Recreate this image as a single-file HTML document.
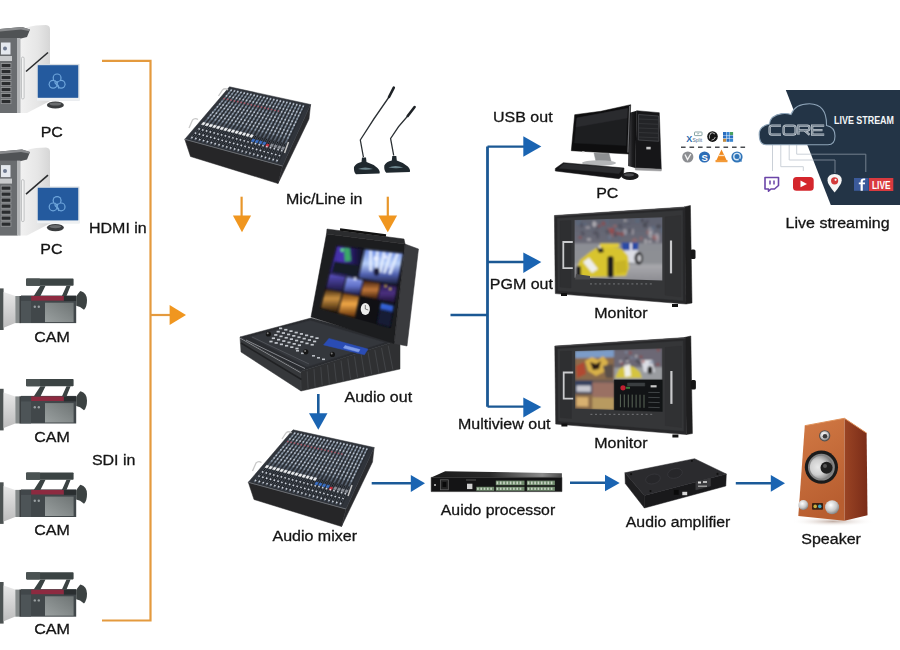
<!DOCTYPE html>
<html><head><meta charset="utf-8"><title>Diagram</title>
<style>
html,body{margin:0;padding:0;background:#fff;width:900px;height:650px;overflow:hidden}
svg{display:block}
text{font-family:"Liberation Sans",sans-serif;fill:#141414}
.t text{stroke:#141414;stroke-width:0.3px}
.t{font-size:15.5px}
</style></head><body>
<svg width="900" height="650" viewBox="0 0 900 650">
<rect width="900" height="650" fill="#ffffff"/>
<defs>
<linearGradient id="sidepanel" x1="0" y1="0" x2="1" y2="0">
 <stop offset="0" stop-color="#f2f2f2"/><stop offset="0.6" stop-color="#e6e6e6"/><stop offset="1" stop-color="#d6d6d6"/>
</linearGradient>
<linearGradient id="hood" x1="0" y1="0" x2="0" y2="1">
 <stop offset="0" stop-color="#e8e8e8"/><stop offset="1" stop-color="#bdbdbd"/>
</linearGradient>
<linearGradient id="lcd" x1="0" y1="1" x2="1" y2="0">
 <stop offset="0" stop-color="#9aa0a0"/><stop offset="1" stop-color="#6e7474"/>
</linearGradient>
<!-- left PC -->
<g id="lpc">
 <!-- side panel -->
 <path d="M19 38L26 28Q30 26 36 25.5L46 25Q50 25.5 50 29V101L27 113H19Z" fill="url(#sidepanel)"/>
 <!-- top cap -->
 <path d="M0 29L22 27L30 29.5L27 37L19 39H0Z" fill="#505355"/>
 <path d="M0 29L22 27L30 29.5L29 31L21 29.5L0 31.5Z" fill="#8a8c8e"/>
 <!-- front -->
 <rect x="0" y="38" width="17.5" height="75" fill="#6a6d70"/>
 <rect x="17" y="38" width="3.5" height="75" fill="#b4b6b8"/>
 <rect x="1" y="42.5" width="9.5" height="12" fill="#e4e8ee"/>
 <circle cx="5" cy="48.5" r="2" fill="#6f7a90"/>
 <rect x="0" y="56" width="12" height="5" fill="#c8cacc"/>
 <rect x="0.8" y="63" width="10.5" height="5" fill="#9a9c9e"/><rect x="1.6" y="63.9" width="8.9" height="3.3" fill="#2a2c2e"/>
 <rect x="0.8" y="69" width="10.5" height="5" fill="#9a9c9e"/><rect x="1.6" y="69.9" width="8.9" height="3.3" fill="#2a2c2e"/>
 <rect x="0.8" y="75" width="10.5" height="5" fill="#9a9c9e"/><rect x="1.6" y="75.9" width="8.9" height="3.3" fill="#2a2c2e"/>
 <rect x="0.8" y="81" width="10.5" height="5" fill="#9a9c9e"/><rect x="1.6" y="81.9" width="8.9" height="3.3" fill="#2a2c2e"/>
 <rect x="0.8" y="87" width="10.5" height="5" fill="#9a9c9e"/><rect x="1.6" y="87.9" width="8.9" height="3.3" fill="#2a2c2e"/>
 <rect x="0.8" y="93" width="10.5" height="5" fill="#9a9c9e"/><rect x="1.6" y="93.9" width="8.9" height="3.3" fill="#2a2c2e"/>
 <rect x="0.8" y="99" width="10.5" height="5" fill="#9a9c9e"/><rect x="1.6" y="99.9" width="8.9" height="3.3" fill="#2a2c2e"/>
 <rect x="21.5" y="57" width="2.6" height="42" rx="1.3" fill="#f4f4f4" stroke="#a0a2a4" stroke-width="0.6"/>
 <path d="M26 71.5L48 52.5" stroke="#2a2c2e" stroke-width="1.6"/>
 <!-- monitor -->
 <rect x="36.8" y="63.9" width="42.7" height="36.8" fill="#d8dde2"/>
 <rect x="36.8" y="97.5" width="42.7" height="3.2" fill="#eef0f2"/>
 <rect x="37.8" y="65.2" width="40.4" height="32.6" fill="#245a9e"/>
 <g fill="#6fa6dc">
  <circle cx="57.1" cy="77.9" r="4.5"/><circle cx="53.1" cy="84.3" r="4.5"/><circle cx="61.1" cy="84.3" r="4.5"/>
 </g>
 <g fill="#245a9e">
  <circle cx="57.1" cy="77.9" r="3.3"/><circle cx="53.1" cy="84.3" r="3.3"/><circle cx="61.1" cy="84.3" r="3.3"/>
 </g>
 <path d="M55.3 80.2Q54.2 83.5 56.8 84.6Q59.6 85.8 58.4 88.4" fill="none" stroke="#6fa6dc" stroke-width="1.2"/>
 <ellipse cx="55.4" cy="105" rx="8.5" ry="3.6" fill="#3a3c3e"/>
 <ellipse cx="55.4" cy="104" rx="6" ry="1.6" fill="#6a6c6e"/>
</g>
<!-- camera (CAM1 coords) -->
<g id="cam">
 <rect x="0" y="288.4" width="3.6" height="41.6" fill="#4c5252"/>
 <path d="M3.6 292L15.3 296V323L3.6 327.7Z" fill="url(#hood)"/>
 <rect x="15.3" y="296" width="5.7" height="27.1" fill="#858a8a"/>
 <rect x="19.5" y="296" width="1.5" height="27.1" fill="#3a3e40"/>
 <rect x="21" y="295.5" width="55.2" height="27.6" fill="#41474a"/>
 <rect x="21" y="301" width="10" height="22" fill="#4d5457"/>
 <rect x="31.2" y="296" width="32.7" height="4.6" fill="#8d2a40"/>
 <rect x="63.9" y="296" width="12.3" height="5" fill="#2a2e30"/>
 <rect x="45" y="302.7" width="28.6" height="19.4" fill="url(#lcd)"/>
 <circle cx="34.8" cy="306.8" r="1.2" fill="#9aa0a2"/><circle cx="38.8" cy="306.8" r="1.2" fill="#9aa0a2"/>
 <path d="M76.2 296.5Q79 292 80.5 290.9Q87 293 87 300Q87 307 84 309.8Q80 306 76.2 305.7Z" fill="#3c4242"/>
 <rect x="26.1" y="278.6" width="47.5" height="7.2" rx="0.8" fill="#3b4343"/>
 <rect x="26.1" y="278.6" width="14" height="7.2" rx="0.8" fill="#4a5252"/>
 <path d="M40.4 285.8H45.5L40.4 296H33.7Z M66.5 285.8H70.6L66.5 296H61.9Z" fill="#3b4343"/>
</g>

<g id="mixer"><path d="M184.8 139.3 L282.5 166 L278 183.5 L190.5 156.5Z" fill="#262628" stroke="#262628" stroke-width="0.5" stroke-linejoin="round"/><path d="M310.6 104.5 L309 119 L278 183.5 L282.5 166Z" fill="#2a2b2e" stroke="#2a2b2e" stroke-width="0.5" stroke-linejoin="round"/><path d="M229.5 86.8 L310.6 104.5 L282.5 166 L184.8 139.3Z" fill="#30343b" stroke="#30343b" stroke-width="0.5" stroke-linejoin="round"/><path d="M184.8 139.3L282.5 166" stroke="#6a6d72" stroke-width="1"/><path d="M232 89.2L207 119.4" stroke="#66727f" stroke-width="1.5"/><path d="M207 119.4L190.7 139" stroke="#5a6472" stroke-width="1.5"/><path d="M233.3 90.1L192.8 139.5" stroke="#25282d" stroke-width="0.8"/><circle cx="231.1" cy="90.3" r="0.85" fill="#bcc4d0"/><circle cx="228.8" cy="93" r="0.85" fill="#909cac"/><circle cx="226.5" cy="95.8" r="0.85" fill="#bcc4d0"/><circle cx="224.3" cy="98.5" r="0.85" fill="#b05868"/><circle cx="222" cy="101.3" r="0.85" fill="#909cac"/><circle cx="219.7" cy="104" r="0.85" fill="#bcc4d0"/><circle cx="217.4" cy="106.8" r="0.85" fill="#bcc4d0"/><circle cx="215.1" cy="109.5" r="0.85" fill="#909cac"/><circle cx="212.8" cy="112.3" r="0.85" fill="#bcc4d0"/><circle cx="210.6" cy="115" r="0.85" fill="#bcc4d0"/><circle cx="208.3" cy="117.8" r="0.85" fill="#909cac"/><path d="M204.3 122.6L191.6 137.9" stroke="#15171a" stroke-width="1"/><path d="M203.2 122.3 L205.4 122.8 L203.7 125 L201.5 124.4Z" fill="#eef0f2" stroke="#eef0f2" stroke-width="0.5" stroke-linejoin="round"/><circle cx="199.1" cy="128.9" r="0.85" fill="#d0d4dc"/><circle cx="195.5" cy="133.1" r="0.85" fill="#d0d4dc"/><circle cx="192" cy="137.4" r="0.85" fill="#d0d4dc"/><path d="M235.3 89.9L210.6 120.3" stroke="#66727f" stroke-width="1.5"/><path d="M210.6 120.3L194.6 140" stroke="#5a6472" stroke-width="1.5"/><path d="M236.5 90.9L196.6 140.6" stroke="#25282d" stroke-width="0.8"/><circle cx="234.4" cy="91" r="0.85" fill="#bcc4d0"/><circle cx="232.1" cy="93.8" r="0.85" fill="#909cac"/><circle cx="229.9" cy="96.5" r="0.85" fill="#bcc4d0"/><circle cx="227.6" cy="99.3" r="0.85" fill="#b05868"/><circle cx="225.4" cy="102.1" r="0.85" fill="#909cac"/><circle cx="223.1" cy="104.9" r="0.85" fill="#bcc4d0"/><circle cx="220.9" cy="107.6" r="0.85" fill="#bcc4d0"/><circle cx="218.6" cy="110.4" r="0.85" fill="#909cac"/><circle cx="216.4" cy="113.2" r="0.85" fill="#bcc4d0"/><circle cx="214.1" cy="115.9" r="0.85" fill="#bcc4d0"/><circle cx="211.9" cy="118.7" r="0.85" fill="#909cac"/><path d="M208 123.5L195.5 139" stroke="#15171a" stroke-width="1"/><path d="M206.9 123.2 L209.1 123.8 L207.4 125.9 L205.2 125.4Z" fill="#eef0f2" stroke="#eef0f2" stroke-width="0.5" stroke-linejoin="round"/><circle cx="202.8" cy="129.9" r="0.85" fill="#d0d4dc"/><circle cx="199.4" cy="134.2" r="0.85" fill="#d0d4dc"/><circle cx="195.9" cy="138.4" r="0.85" fill="#d0d4dc"/><path d="M238.5 90.7L214.2 121.2" stroke="#66727f" stroke-width="1.5"/><path d="M214.2 121.2L198.5 141.1" stroke="#5a6472" stroke-width="1.5"/><path d="M239.8 91.6L200.5 141.6" stroke="#25282d" stroke-width="0.8"/><circle cx="237.7" cy="91.7" r="0.85" fill="#bcc4d0"/><circle cx="235.5" cy="94.5" r="0.85" fill="#909cac"/><circle cx="233.2" cy="97.3" r="0.85" fill="#bcc4d0"/><circle cx="231" cy="100.1" r="0.85" fill="#b05868"/><circle cx="228.8" cy="102.9" r="0.85" fill="#909cac"/><circle cx="226.6" cy="105.7" r="0.85" fill="#bcc4d0"/><circle cx="224.4" cy="108.5" r="0.85" fill="#bcc4d0"/><circle cx="222.2" cy="111.3" r="0.85" fill="#909cac"/><circle cx="220" cy="114" r="0.85" fill="#bcc4d0"/><circle cx="217.7" cy="116.8" r="0.85" fill="#bcc4d0"/><circle cx="215.5" cy="119.6" r="0.85" fill="#909cac"/><path d="M211.7 124.5L199.3 140" stroke="#15171a" stroke-width="1"/><path d="M210.6 124.2 L212.8 124.7 L211.1 126.9 L208.9 126.3Z" fill="#eef0f2" stroke="#eef0f2" stroke-width="0.5" stroke-linejoin="round"/><circle cx="206.6" cy="130.9" r="0.85" fill="#d0d4dc"/><circle cx="203.2" cy="135.2" r="0.85" fill="#d0d4dc"/><circle cx="199.8" cy="139.5" r="0.85" fill="#d0d4dc"/><path d="M241.8 91.4L217.9 122.2" stroke="#66727f" stroke-width="1.5"/><path d="M217.9 122.2L202.4 142.1" stroke="#5a6472" stroke-width="1.5"/><path d="M243.1 92.3L204.4 142.7" stroke="#25282d" stroke-width="0.8"/><circle cx="240.9" cy="92.5" r="0.85" fill="#bcc4d0"/><circle cx="238.8" cy="95.3" r="0.85" fill="#909cac"/><circle cx="236.6" cy="98.1" r="0.85" fill="#bcc4d0"/><circle cx="234.4" cy="100.9" r="0.85" fill="#b05868"/><circle cx="232.2" cy="103.7" r="0.85" fill="#909cac"/><circle cx="230" cy="106.5" r="0.85" fill="#bcc4d0"/><circle cx="227.9" cy="109.3" r="0.85" fill="#bcc4d0"/><circle cx="225.7" cy="112.1" r="0.85" fill="#909cac"/><circle cx="223.5" cy="114.9" r="0.85" fill="#bcc4d0"/><circle cx="221.3" cy="117.7" r="0.85" fill="#bcc4d0"/><circle cx="219.1" cy="120.5" r="0.85" fill="#909cac"/><path d="M215.4 125.4L203.2 141.1" stroke="#15171a" stroke-width="1"/><path d="M214.3 125.1 L216.5 125.7 L214.8 127.8 L212.6 127.3Z" fill="#eef0f2" stroke="#eef0f2" stroke-width="0.5" stroke-linejoin="round"/><circle cx="210.3" cy="131.9" r="0.85" fill="#d0d4dc"/><circle cx="207" cy="136.2" r="0.85" fill="#d0d4dc"/><circle cx="203.6" cy="140.5" r="0.85" fill="#d0d4dc"/><path d="M245 92.1L221.5 123.1" stroke="#66727f" stroke-width="1.5"/><path d="M221.5 123.1L206.3 143.2" stroke="#5a6472" stroke-width="1.5"/><path d="M246.4 93L208.3 143.8" stroke="#25282d" stroke-width="0.8"/><circle cx="244.2" cy="93.2" r="0.85" fill="#bcc4d0"/><circle cx="242.1" cy="96" r="0.85" fill="#909cac"/><circle cx="239.9" cy="98.8" r="0.85" fill="#bcc4d0"/><circle cx="237.8" cy="101.7" r="0.85" fill="#b05868"/><circle cx="235.6" cy="104.5" r="0.85" fill="#909cac"/><circle cx="233.5" cy="107.3" r="0.85" fill="#bcc4d0"/><circle cx="231.4" cy="110.1" r="0.85" fill="#bcc4d0"/><circle cx="229.2" cy="113" r="0.85" fill="#909cac"/><circle cx="227.1" cy="115.8" r="0.85" fill="#bcc4d0"/><circle cx="224.9" cy="118.6" r="0.85" fill="#bcc4d0"/><circle cx="222.8" cy="121.5" r="0.85" fill="#909cac"/><path d="M219.1 126.3L207.1 142.1" stroke="#15171a" stroke-width="1"/><path d="M217.9 126.1 L220.2 126.6 L218.5 128.8 L216.3 128.2Z" fill="#eef0f2" stroke="#eef0f2" stroke-width="0.5" stroke-linejoin="round"/><circle cx="214.1" cy="132.9" r="0.85" fill="#d0d4dc"/><circle cx="210.8" cy="137.2" r="0.85" fill="#d0d4dc"/><circle cx="207.5" cy="141.6" r="0.85" fill="#d0d4dc"/><path d="M248.3 92.8L225.2 124" stroke="#66727f" stroke-width="1.5"/><path d="M225.2 124L210.1 144.3" stroke="#5a6472" stroke-width="1.5"/><path d="M249.6 93.7L212.2 144.8" stroke="#25282d" stroke-width="0.8"/><circle cx="247.5" cy="93.9" r="0.85" fill="#bcc4d0"/><circle cx="245.4" cy="96.8" r="0.85" fill="#909cac"/><circle cx="243.3" cy="99.6" r="0.85" fill="#bcc4d0"/><circle cx="241.2" cy="102.4" r="0.85" fill="#b05868"/><circle cx="239.1" cy="105.3" r="0.85" fill="#909cac"/><circle cx="236.9" cy="108.1" r="0.85" fill="#bcc4d0"/><circle cx="234.8" cy="111" r="0.85" fill="#bcc4d0"/><circle cx="232.7" cy="113.8" r="0.85" fill="#909cac"/><circle cx="230.6" cy="116.7" r="0.85" fill="#bcc4d0"/><circle cx="228.5" cy="119.5" r="0.85" fill="#bcc4d0"/><circle cx="226.4" cy="122.4" r="0.85" fill="#909cac"/><path d="M222.7 127.3L211 143.2" stroke="#15171a" stroke-width="1"/><path d="M221.6 127 L223.8 127.6 L222.2 129.8 L220 129.2Z" fill="#eef0f2" stroke="#eef0f2" stroke-width="0.5" stroke-linejoin="round"/><circle cx="217.9" cy="133.9" r="0.85" fill="#d0d4dc"/><circle cx="214.6" cy="138.2" r="0.85" fill="#d0d4dc"/><circle cx="211.4" cy="142.6" r="0.85" fill="#d0d4dc"/><path d="M251.6 93.5L228.8 124.9" stroke="#66727f" stroke-width="1.5"/><path d="M228.8 124.9L214 145.3" stroke="#5a6472" stroke-width="1.5"/><path d="M252.9 94.5L216.1 145.9" stroke="#25282d" stroke-width="0.8"/><circle cx="250.8" cy="94.6" r="0.85" fill="#bcc4d0"/><circle cx="248.7" cy="97.5" r="0.85" fill="#909cac"/><circle cx="246.6" cy="100.4" r="0.85" fill="#bcc4d0"/><circle cx="244.5" cy="103.2" r="0.85" fill="#b05868"/><circle cx="242.5" cy="106.1" r="0.85" fill="#909cac"/><circle cx="240.4" cy="109" r="0.85" fill="#bcc4d0"/><circle cx="238.3" cy="111.8" r="0.85" fill="#bcc4d0"/><circle cx="236.2" cy="114.7" r="0.85" fill="#909cac"/><circle cx="234.2" cy="117.5" r="0.85" fill="#bcc4d0"/><circle cx="232.1" cy="120.4" r="0.85" fill="#bcc4d0"/><circle cx="230" cy="123.3" r="0.85" fill="#909cac"/><path d="M226.4 128.2L214.8 144.2" stroke="#15171a" stroke-width="1"/><path d="M225.3 128 L227.5 128.5 L225.9 130.7 L223.7 130.2Z" fill="#eef0f2" stroke="#eef0f2" stroke-width="0.5" stroke-linejoin="round"/><circle cx="221.6" cy="134.8" r="0.85" fill="#d0d4dc"/><circle cx="218.4" cy="139.3" r="0.85" fill="#d0d4dc"/><circle cx="215.2" cy="143.7" r="0.85" fill="#d0d4dc"/><path d="M254.8 94.3L232.5 125.9" stroke="#66727f" stroke-width="1.5"/><path d="M232.5 125.9L217.9 146.4" stroke="#5a6472" stroke-width="1.5"/><path d="M256.2 95.2L220 146.9" stroke="#25282d" stroke-width="0.8"/><circle cx="254.1" cy="95.4" r="0.85" fill="#bcc4d0"/><circle cx="252" cy="98.2" r="0.85" fill="#909cac"/><circle cx="250" cy="101.1" r="0.85" fill="#bcc4d0"/><circle cx="247.9" cy="104" r="0.85" fill="#b05868"/><circle cx="245.9" cy="106.9" r="0.85" fill="#909cac"/><circle cx="243.8" cy="109.8" r="0.85" fill="#bcc4d0"/><circle cx="241.8" cy="112.7" r="0.85" fill="#bcc4d0"/><circle cx="239.8" cy="115.5" r="0.85" fill="#909cac"/><circle cx="237.7" cy="118.4" r="0.85" fill="#bcc4d0"/><circle cx="235.7" cy="121.3" r="0.85" fill="#bcc4d0"/><circle cx="233.6" cy="124.2" r="0.85" fill="#909cac"/><path d="M230.1 129.2L218.7 145.3" stroke="#15171a" stroke-width="1"/><path d="M229 128.9 L231.2 129.5 L229.6 131.7 L227.4 131.1Z" fill="#eef0f2" stroke="#eef0f2" stroke-width="0.5" stroke-linejoin="round"/><circle cx="225.4" cy="135.8" r="0.85" fill="#d0d4dc"/><circle cx="222.2" cy="140.3" r="0.85" fill="#d0d4dc"/><circle cx="219.1" cy="144.7" r="0.85" fill="#d0d4dc"/><path d="M258.1 95L236.1 126.8" stroke="#66727f" stroke-width="1.5"/><path d="M236.1 126.8L221.8 147.4" stroke="#5a6472" stroke-width="1.5"/><path d="M259.4 95.9L223.9 148" stroke="#25282d" stroke-width="0.8"/><circle cx="257.3" cy="96.1" r="0.85" fill="#bcc4d0"/><circle cx="255.3" cy="99" r="0.85" fill="#909cac"/><circle cx="253.3" cy="101.9" r="0.85" fill="#bcc4d0"/><circle cx="251.3" cy="104.8" r="0.85" fill="#b05868"/><circle cx="249.3" cy="107.7" r="0.85" fill="#909cac"/><circle cx="247.3" cy="110.6" r="0.85" fill="#bcc4d0"/><circle cx="245.3" cy="113.5" r="0.85" fill="#bcc4d0"/><circle cx="243.3" cy="116.4" r="0.85" fill="#909cac"/><circle cx="241.3" cy="119.3" r="0.85" fill="#bcc4d0"/><circle cx="239.3" cy="122.2" r="0.85" fill="#bcc4d0"/><circle cx="237.3" cy="125.1" r="0.85" fill="#909cac"/><path d="M233.8 130.1L222.6 146.3" stroke="#15171a" stroke-width="1"/><path d="M232.7 129.8 L234.9 130.4 L233.4 132.6 L231.1 132.1Z" fill="#eef0f2" stroke="#eef0f2" stroke-width="0.5" stroke-linejoin="round"/><circle cx="229.1" cy="136.8" r="0.85" fill="#d0d4dc"/><circle cx="226.1" cy="141.3" r="0.85" fill="#d0d4dc"/><circle cx="223" cy="145.8" r="0.85" fill="#d0d4dc"/><path d="M261.4 95.7L239.7 127.7" stroke="#66727f" stroke-width="1.5"/><path d="M239.7 127.7L225.7 148.5" stroke="#5a6472" stroke-width="1.5"/><path d="M262.7 96.6L227.7 149" stroke="#25282d" stroke-width="0.8"/><circle cx="260.6" cy="96.8" r="0.85" fill="#bcc4d0"/><circle cx="258.6" cy="99.7" r="0.85" fill="#909cac"/><circle cx="256.7" cy="102.7" r="0.85" fill="#bcc4d0"/><circle cx="254.7" cy="105.6" r="0.85" fill="#b05868"/><circle cx="252.7" cy="108.5" r="0.85" fill="#909cac"/><circle cx="250.7" cy="111.4" r="0.85" fill="#bcc4d0"/><circle cx="248.8" cy="114.3" r="0.85" fill="#bcc4d0"/><circle cx="246.8" cy="117.3" r="0.85" fill="#909cac"/><circle cx="244.8" cy="120.2" r="0.85" fill="#bcc4d0"/><circle cx="242.9" cy="123.1" r="0.85" fill="#bcc4d0"/><circle cx="240.9" cy="126" r="0.85" fill="#909cac"/><path d="M237.5 131.1L226.5 147.4" stroke="#15171a" stroke-width="1"/><path d="M236.4 130.8 L238.6 131.4 L237.1 133.6 L234.8 133Z" fill="#eef0f2" stroke="#eef0f2" stroke-width="0.5" stroke-linejoin="round"/><circle cx="232.9" cy="137.8" r="0.85" fill="#d0d4dc"/><circle cx="229.9" cy="142.3" r="0.85" fill="#d0d4dc"/><circle cx="226.8" cy="146.8" r="0.85" fill="#d0d4dc"/><path d="M264.6 96.4L243.4 128.6" stroke="#66727f" stroke-width="1.5"/><path d="M243.4 128.6L229.6 149.5" stroke="#5a6472" stroke-width="1.5"/><path d="M266 97.4L231.6 150.1" stroke="#25282d" stroke-width="0.8"/><circle cx="263.9" cy="97.5" r="0.85" fill="#bcc4d0"/><circle cx="261.9" cy="100.5" r="0.85" fill="#909cac"/><circle cx="260" cy="103.4" r="0.85" fill="#bcc4d0"/><circle cx="258.1" cy="106.4" r="0.85" fill="#b05868"/><circle cx="256.1" cy="109.3" r="0.85" fill="#909cac"/><circle cx="254.2" cy="112.2" r="0.85" fill="#bcc4d0"/><circle cx="252.3" cy="115.2" r="0.85" fill="#bcc4d0"/><circle cx="250.3" cy="118.1" r="0.85" fill="#909cac"/><circle cx="248.4" cy="121.1" r="0.85" fill="#bcc4d0"/><circle cx="246.4" cy="124" r="0.85" fill="#bcc4d0"/><circle cx="244.5" cy="126.9" r="0.85" fill="#909cac"/><path d="M241.1 132L230.3 148.4" stroke="#15171a" stroke-width="1"/><path d="M240 131.7 L242.3 132.3 L240.8 134.6 L238.5 134Z" fill="#eef0f2" stroke="#eef0f2" stroke-width="0.5" stroke-linejoin="round"/><circle cx="236.7" cy="138.8" r="0.85" fill="#d0d4dc"/><circle cx="233.7" cy="143.3" r="0.85" fill="#d0d4dc"/><circle cx="230.7" cy="147.8" r="0.85" fill="#d0d4dc"/><path d="M267.9 97.1L247 129.5" stroke="#66727f" stroke-width="1.5"/><path d="M247 129.5L233.5 150.6" stroke="#5a6472" stroke-width="1.5"/><path d="M269.2 98.1L235.5 151.2" stroke="#25282d" stroke-width="0.8"/><circle cx="267.2" cy="98.3" r="0.85" fill="#bcc4d0"/><circle cx="265.3" cy="101.2" r="0.85" fill="#909cac"/><circle cx="263.4" cy="104.2" r="0.85" fill="#bcc4d0"/><circle cx="261.5" cy="107.1" r="0.85" fill="#b05868"/><circle cx="259.5" cy="110.1" r="0.85" fill="#909cac"/><circle cx="257.6" cy="113.1" r="0.85" fill="#bcc4d0"/><circle cx="255.7" cy="116" r="0.85" fill="#bcc4d0"/><circle cx="253.8" cy="119" r="0.85" fill="#909cac"/><circle cx="251.9" cy="121.9" r="0.85" fill="#bcc4d0"/><circle cx="250" cy="124.9" r="0.85" fill="#bcc4d0"/><circle cx="248.1" cy="127.8" r="0.85" fill="#909cac"/><path d="M244.8 133L234.2 149.5" stroke="#15171a" stroke-width="1"/><path d="M243.7 132.7 L245.9 133.2 L244.5 135.5 L242.3 135Z" fill="#eef0f2" stroke="#eef0f2" stroke-width="0.5" stroke-linejoin="round"/><circle cx="240.4" cy="139.8" r="0.85" fill="#d0d4dc"/><circle cx="237.5" cy="144.3" r="0.85" fill="#d0d4dc"/><circle cx="234.6" cy="148.9" r="0.85" fill="#d0d4dc"/><path d="M271.2 97.8L250.7 130.5" stroke="#66727f" stroke-width="1.5"/><path d="M250.7 130.5L237.4 151.7" stroke="#5a6472" stroke-width="1.5"/><path d="M272.5 98.8L239.4 152.2" stroke="#25282d" stroke-width="0.8"/><circle cx="270.4" cy="99" r="0.85" fill="#bcc4d0"/><circle cx="268.6" cy="102" r="0.85" fill="#909cac"/><circle cx="266.7" cy="104.9" r="0.85" fill="#bcc4d0"/><circle cx="264.8" cy="107.9" r="0.85" fill="#b05868"/><circle cx="263" cy="110.9" r="0.85" fill="#909cac"/><circle cx="261.1" cy="113.9" r="0.85" fill="#bcc4d0"/><circle cx="259.2" cy="116.8" r="0.85" fill="#bcc4d0"/><circle cx="257.4" cy="119.8" r="0.85" fill="#909cac"/><circle cx="255.5" cy="122.8" r="0.85" fill="#bcc4d0"/><circle cx="253.6" cy="125.8" r="0.85" fill="#bcc4d0"/><circle cx="251.7" cy="128.8" r="0.85" fill="#909cac"/><path d="M248.5 133.9L238.1 150.5" stroke="#15171a" stroke-width="1"/><path d="M247.4 133.6 L249.6 134.2 L248.2 136.5 L246 135.9Z" fill="#eef0f2" stroke="#eef0f2" stroke-width="0.5" stroke-linejoin="round"/><circle cx="244.2" cy="140.8" r="0.85" fill="#d0d4dc"/><circle cx="241.3" cy="145.4" r="0.85" fill="#d0d4dc"/><circle cx="238.4" cy="149.9" r="0.85" fill="#d0d4dc"/><path d="M274.4 98.6L254.3 131.4" stroke="#66727f" stroke-width="1.5"/><path d="M254.3 131.4L241.3 152.7" stroke="#5a6472" stroke-width="1.5"/><path d="M275.8 99.5L243.3 153.3" stroke="#25282d" stroke-width="0.8"/><circle cx="273.7" cy="99.7" r="0.85" fill="#bcc4d0"/><circle cx="271.9" cy="102.7" r="0.85" fill="#909cac"/><circle cx="270" cy="105.7" r="0.85" fill="#bcc4d0"/><circle cx="268.2" cy="108.7" r="0.85" fill="#b05868"/><circle cx="266.4" cy="111.7" r="0.85" fill="#909cac"/><circle cx="264.5" cy="114.7" r="0.85" fill="#bcc4d0"/><circle cx="262.7" cy="117.7" r="0.85" fill="#bcc4d0"/><circle cx="260.9" cy="120.7" r="0.85" fill="#909cac"/><circle cx="259" cy="123.7" r="0.85" fill="#bcc4d0"/><circle cx="257.2" cy="126.7" r="0.85" fill="#bcc4d0"/><circle cx="255.4" cy="129.7" r="0.85" fill="#909cac"/><path d="M252.2 134.9L242 151.6" stroke="#15171a" stroke-width="1"/><path d="M251.1 134.6 L253.3 135.1 L251.9 137.4 L249.7 136.9Z" fill="#eef0f2" stroke="#eef0f2" stroke-width="0.5" stroke-linejoin="round"/><circle cx="248" cy="141.8" r="0.85" fill="#d0d4dc"/><circle cx="245.1" cy="146.4" r="0.85" fill="#d0d4dc"/><circle cx="242.3" cy="151" r="0.85" fill="#d0d4dc"/><path d="M277.7 99.3L258 132.3" stroke="#66727f" stroke-width="1.5"/><path d="M258 132.3L245.1 153.8" stroke="#5a6472" stroke-width="1.5"/><path d="M279.1 100.2L247.2 154.3" stroke="#25282d" stroke-width="0.8"/><circle cx="277" cy="100.4" r="0.85" fill="#bcc4d0"/><circle cx="275.2" cy="103.5" r="0.85" fill="#909cac"/><circle cx="273.4" cy="106.5" r="0.85" fill="#bcc4d0"/><circle cx="271.6" cy="109.5" r="0.85" fill="#b05868"/><circle cx="269.8" cy="112.5" r="0.85" fill="#909cac"/><circle cx="268" cy="115.5" r="0.85" fill="#bcc4d0"/><circle cx="266.2" cy="118.5" r="0.85" fill="#bcc4d0"/><circle cx="264.4" cy="121.5" r="0.85" fill="#909cac"/><circle cx="262.6" cy="124.6" r="0.85" fill="#bcc4d0"/><circle cx="260.8" cy="127.6" r="0.85" fill="#bcc4d0"/><circle cx="259" cy="130.6" r="0.85" fill="#909cac"/><path d="M255.9 135.8L245.8 152.6" stroke="#15171a" stroke-width="1"/><path d="M252.7 139 L254.9 139.6 L253.5 141.9 L251.3 141.3Z" fill="#3a70c8" stroke="#3a70c8" stroke-width="0.5" stroke-linejoin="round"/><circle cx="251.7" cy="142.8" r="0.85" fill="#d0d4dc"/><circle cx="249" cy="147.4" r="0.85" fill="#d0d4dc"/><circle cx="246.2" cy="152" r="0.85" fill="#d0d4dc"/><path d="M281 100L261.6 133.2" stroke="#66727f" stroke-width="1.5"/><path d="M261.6 133.2L249 154.8" stroke="#5a6472" stroke-width="1.5"/><path d="M282.3 101L251.1 155.4" stroke="#25282d" stroke-width="0.8"/><circle cx="280.3" cy="101.2" r="0.85" fill="#bcc4d0"/><circle cx="278.5" cy="104.2" r="0.85" fill="#909cac"/><circle cx="276.7" cy="107.2" r="0.85" fill="#bcc4d0"/><circle cx="275" cy="110.3" r="0.85" fill="#b05868"/><circle cx="273.2" cy="113.3" r="0.85" fill="#909cac"/><circle cx="271.4" cy="116.3" r="0.85" fill="#bcc4d0"/><circle cx="269.7" cy="119.4" r="0.85" fill="#bcc4d0"/><circle cx="267.9" cy="122.4" r="0.85" fill="#909cac"/><circle cx="266.1" cy="125.4" r="0.85" fill="#bcc4d0"/><circle cx="264.4" cy="128.5" r="0.85" fill="#bcc4d0"/><circle cx="262.6" cy="131.5" r="0.85" fill="#909cac"/><path d="M259.6 136.7L249.7 153.7" stroke="#15171a" stroke-width="1"/><path d="M256.4 140 L258.6 140.5 L257.3 142.9 L255 142.3Z" fill="#3a70c8" stroke="#3a70c8" stroke-width="0.5" stroke-linejoin="round"/><circle cx="255.5" cy="143.7" r="0.85" fill="#d0d4dc"/><circle cx="252.8" cy="148.4" r="0.85" fill="#d0d4dc"/><circle cx="250" cy="153.1" r="0.85" fill="#d0d4dc"/><path d="M284.2 100.7L265.2 134.2" stroke="#66727f" stroke-width="1.5"/><path d="M265.2 134.2L252.9 155.9" stroke="#5a6472" stroke-width="1.5"/><path d="M285.6 101.7L255 156.4" stroke="#25282d" stroke-width="0.8"/><circle cx="283.6" cy="101.9" r="0.85" fill="#bcc4d0"/><circle cx="281.8" cy="104.9" r="0.85" fill="#909cac"/><circle cx="280.1" cy="108" r="0.85" fill="#bcc4d0"/><circle cx="278.4" cy="111" r="0.85" fill="#b05868"/><circle cx="276.6" cy="114.1" r="0.85" fill="#909cac"/><circle cx="274.9" cy="117.2" r="0.85" fill="#bcc4d0"/><circle cx="273.2" cy="120.2" r="0.85" fill="#bcc4d0"/><circle cx="271.4" cy="123.3" r="0.85" fill="#909cac"/><circle cx="269.7" cy="126.3" r="0.85" fill="#bcc4d0"/><circle cx="268" cy="129.4" r="0.85" fill="#bcc4d0"/><circle cx="266.2" cy="132.4" r="0.85" fill="#909cac"/><path d="M263.2 137.7L253.6 154.7" stroke="#15171a" stroke-width="1"/><path d="M260.1 140.9 L262.4 141.5 L261 143.9 L258.8 143.3Z" fill="#3a70c8" stroke="#3a70c8" stroke-width="0.5" stroke-linejoin="round"/><circle cx="259.2" cy="144.7" r="0.85" fill="#d0d4dc"/><circle cx="256.6" cy="149.4" r="0.85" fill="#d0d4dc"/><circle cx="253.9" cy="154.1" r="0.85" fill="#d0d4dc"/><path d="M287.5 101.4L268.9 135.1" stroke="#66727f" stroke-width="1.5"/><path d="M268.9 135.1L256.8 156.9" stroke="#5a6472" stroke-width="1.5"/><path d="M288.9 102.4L258.8 157.5" stroke="#25282d" stroke-width="0.8"/><circle cx="286.8" cy="102.6" r="0.85" fill="#bcc4d0"/><circle cx="285.1" cy="105.7" r="0.85" fill="#909cac"/><circle cx="283.4" cy="108.8" r="0.85" fill="#bcc4d0"/><circle cx="281.7" cy="111.8" r="0.85" fill="#bcc4d0"/><circle cx="280" cy="114.9" r="0.85" fill="#909cac"/><circle cx="278.3" cy="118" r="0.85" fill="#bcc4d0"/><circle cx="276.6" cy="121" r="0.85" fill="#bcc4d0"/><circle cx="275" cy="124.1" r="0.85" fill="#909cac"/><circle cx="273.3" cy="127.2" r="0.85" fill="#bcc4d0"/><circle cx="271.6" cy="130.3" r="0.85" fill="#bcc4d0"/><circle cx="269.9" cy="133.3" r="0.85" fill="#909cac"/><path d="M266.9 138.6L257.5 155.8" stroke="#15171a" stroke-width="1"/><path d="M263.8 141.9 L266.1 142.5 L264.8 144.8 L262.5 144.2Z" fill="#3a70c8" stroke="#3a70c8" stroke-width="0.5" stroke-linejoin="round"/><circle cx="263" cy="145.7" r="0.85" fill="#d0d4dc"/><circle cx="260.4" cy="150.4" r="0.85" fill="#d0d4dc"/><circle cx="257.8" cy="155.2" r="0.85" fill="#d0d4dc"/><path d="M290.7 102.2L272.5 136" stroke="#66727f" stroke-width="1.5"/><path d="M272.5 136L260.7 158" stroke="#5a6472" stroke-width="1.5"/><path d="M292.1 103.1L262.7 158.6" stroke="#25282d" stroke-width="0.8"/><circle cx="290.1" cy="103.3" r="0.85" fill="#bcc4d0"/><circle cx="288.4" cy="106.4" r="0.85" fill="#909cac"/><circle cx="286.8" cy="109.5" r="0.85" fill="#bcc4d0"/><circle cx="285.1" cy="112.6" r="0.85" fill="#bcc4d0"/><circle cx="283.5" cy="115.7" r="0.85" fill="#909cac"/><circle cx="281.8" cy="118.8" r="0.85" fill="#bcc4d0"/><circle cx="280.1" cy="121.9" r="0.85" fill="#bcc4d0"/><circle cx="278.5" cy="125" r="0.85" fill="#909cac"/><circle cx="276.8" cy="128.1" r="0.85" fill="#bcc4d0"/><circle cx="275.1" cy="131.1" r="0.85" fill="#bcc4d0"/><circle cx="273.5" cy="134.2" r="0.85" fill="#909cac"/><path d="M270.6 139.6L261.3 156.8" stroke="#15171a" stroke-width="1"/><path d="M266.9 144 L269.2 144.6 L267.9 147 L265.6 146.4Z" fill="#d03040" stroke="#d03040" stroke-width="0.5" stroke-linejoin="round"/><circle cx="266.8" cy="146.7" r="0.85" fill="#d0d4dc"/><circle cx="264.2" cy="151.5" r="0.85" fill="#d0d4dc"/><circle cx="261.7" cy="156.2" r="0.85" fill="#d0d4dc"/><path d="M294 102.9L276.2 136.9" stroke="#66727f" stroke-width="1.5"/><path d="M276.2 136.9L264.6 159.1" stroke="#5a6472" stroke-width="1.5"/><path d="M295.4 103.9L266.6 159.6" stroke="#25282d" stroke-width="0.8"/><circle cx="293.4" cy="104.1" r="0.85" fill="#bcc4d0"/><circle cx="291.8" cy="107.2" r="0.85" fill="#909cac"/><circle cx="290.1" cy="110.3" r="0.85" fill="#bcc4d0"/><circle cx="288.5" cy="113.4" r="0.85" fill="#bcc4d0"/><circle cx="286.9" cy="116.5" r="0.85" fill="#909cac"/><circle cx="285.2" cy="119.6" r="0.85" fill="#bcc4d0"/><circle cx="283.6" cy="122.7" r="0.85" fill="#bcc4d0"/><circle cx="282" cy="125.8" r="0.85" fill="#909cac"/><circle cx="280.4" cy="128.9" r="0.85" fill="#bcc4d0"/><circle cx="278.7" cy="132" r="0.85" fill="#bcc4d0"/><circle cx="277.1" cy="135.1" r="0.85" fill="#909cac"/><path d="M274.3 140.5L265.2 157.9" stroke="#15171a" stroke-width="1"/><path d="M271.3 143.8 L273.5 144.4 L272.3 146.8 L270 146.2Z" fill="#8a8e96" stroke="#8a8e96" stroke-width="0.5" stroke-linejoin="round"/><circle cx="270.5" cy="147.7" r="0.85" fill="#d0d4dc"/><circle cx="268" cy="152.5" r="0.85" fill="#d0d4dc"/><circle cx="265.5" cy="157.3" r="0.85" fill="#d0d4dc"/><path d="M297.3 103.6L279.8 137.9" stroke="#66727f" stroke-width="1.5"/><path d="M279.8 137.9L268.5 160.1" stroke="#5a6472" stroke-width="1.5"/><path d="M298.7 104.6L270.5 160.7" stroke="#25282d" stroke-width="0.8"/><circle cx="296.7" cy="104.8" r="0.85" fill="#bcc4d0"/><circle cx="295.1" cy="107.9" r="0.85" fill="#909cac"/><circle cx="293.5" cy="111.1" r="0.85" fill="#bcc4d0"/><circle cx="291.9" cy="114.2" r="0.85" fill="#bcc4d0"/><circle cx="290.3" cy="117.3" r="0.85" fill="#909cac"/><circle cx="288.7" cy="120.4" r="0.85" fill="#bcc4d0"/><circle cx="287.1" cy="123.6" r="0.85" fill="#bcc4d0"/><circle cx="285.5" cy="126.7" r="0.85" fill="#909cac"/><circle cx="283.9" cy="129.8" r="0.85" fill="#bcc4d0"/><circle cx="282.3" cy="132.9" r="0.85" fill="#bcc4d0"/><circle cx="280.7" cy="136.1" r="0.85" fill="#909cac"/><path d="M278 141.5L269.1 158.9" stroke="#15171a" stroke-width="1"/><path d="M275 144.8 L277.2 145.4 L276 147.8 L273.8 147.2Z" fill="#8a8e96" stroke="#8a8e96" stroke-width="0.5" stroke-linejoin="round"/><circle cx="274.3" cy="148.7" r="0.85" fill="#d0d4dc"/><circle cx="271.8" cy="153.5" r="0.85" fill="#d0d4dc"/><circle cx="269.4" cy="158.3" r="0.85" fill="#d0d4dc"/><path d="M300.5 104.3L283.5 138.8" stroke="#66727f" stroke-width="1.5"/><path d="M283.5 138.8L272.4 161.2" stroke="#5a6472" stroke-width="1.5"/><path d="M302 105.3L274.4 161.7" stroke="#25282d" stroke-width="0.8"/><circle cx="299.9" cy="105.5" r="0.85" fill="#bcc4d0"/><circle cx="298.4" cy="108.7" r="0.85" fill="#909cac"/><circle cx="296.8" cy="111.8" r="0.85" fill="#bcc4d0"/><circle cx="295.3" cy="115" r="0.85" fill="#bcc4d0"/><circle cx="293.7" cy="118.1" r="0.85" fill="#909cac"/><circle cx="292.1" cy="121.2" r="0.85" fill="#bcc4d0"/><circle cx="290.6" cy="124.4" r="0.85" fill="#bcc4d0"/><circle cx="289" cy="127.5" r="0.85" fill="#909cac"/><circle cx="287.5" cy="130.7" r="0.85" fill="#bcc4d0"/><circle cx="285.9" cy="133.8" r="0.85" fill="#bcc4d0"/><circle cx="284.3" cy="137" r="0.85" fill="#909cac"/><path d="M281.7 142.4L273 160" stroke="#15171a" stroke-width="1"/><path d="M278.7 145.8 L281 146.3 L279.8 148.8 L277.5 148.2Z" fill="#8a8e96" stroke="#8a8e96" stroke-width="0.5" stroke-linejoin="round"/><circle cx="278.1" cy="149.7" r="0.85" fill="#d0d4dc"/><circle cx="275.7" cy="154.5" r="0.85" fill="#d0d4dc"/><circle cx="273.3" cy="159.4" r="0.85" fill="#d0d4dc"/><path d="M303.8 105L287.1 139.7" stroke="#66727f" stroke-width="1.5"/><path d="M287.1 139.7L276.2 162.2" stroke="#5a6472" stroke-width="1.5"/><path d="M305.2 106L278.3 162.8" stroke="#25282d" stroke-width="0.8"/><circle cx="303.2" cy="106.3" r="0.85" fill="#bcc4d0"/><circle cx="301.7" cy="109.4" r="0.85" fill="#909cac"/><circle cx="300.2" cy="112.6" r="0.85" fill="#bcc4d0"/><circle cx="298.6" cy="115.7" r="0.85" fill="#bcc4d0"/><circle cx="297.1" cy="118.9" r="0.85" fill="#909cac"/><circle cx="295.6" cy="122.1" r="0.85" fill="#bcc4d0"/><circle cx="294.1" cy="125.2" r="0.85" fill="#bcc4d0"/><circle cx="292.5" cy="128.4" r="0.85" fill="#909cac"/><circle cx="291" cy="131.6" r="0.85" fill="#bcc4d0"/><circle cx="289.5" cy="134.7" r="0.85" fill="#bcc4d0"/><circle cx="288" cy="137.9" r="0.85" fill="#909cac"/><path d="M285.3 143.4L276.8 161" stroke="#15171a" stroke-width="1"/><path d="M282.5 146.7 L284.7 147.3 L283.5 149.7 L281.3 149.2Z" fill="#8a8e96" stroke="#8a8e96" stroke-width="0.5" stroke-linejoin="round"/><circle cx="281.8" cy="150.7" r="0.85" fill="#d0d4dc"/><circle cx="279.5" cy="155.5" r="0.85" fill="#d0d4dc"/><circle cx="277.1" cy="160.4" r="0.85" fill="#d0d4dc"/><path d="M228 90Q225 87.5 222.5 90L218.5 96" fill="none" stroke="#c8c8c8" stroke-width="1.3"/><path d="M198 119.5Q195 117.5 192.5 120L189 128" fill="none" stroke="#c8c8c8" stroke-width="1.3"/><path d="M288.5 142L284.5 153" fill="none" stroke="#c8c8c8" stroke-width="1.5"/></g>
</defs>
<use href="#mixer"/>
<use href="#mixer" transform="translate(63.5,343)"/>
<path d="M389 97Q374 118 360.3 140L363.4 157" fill="none" stroke="#2b3034" stroke-width="1.3"/><path d="M393.8 87.7L389 97" stroke="#1e2226" stroke-width="2.6" stroke-linecap="round"/><g transform="translate(0,0)"><path d="M362 157.5H366L366.5 162Q373 164 377.5 168Q380.5 171 379.5 173.5L356 174.2Q353.5 172 354 167Q356 163 361.5 162Z" fill="#1f282e"/><path d="M358 169Q365 166 373 169Q366 170.5 358 169Z" fill="#6c848c"/></g><path d="M407.7 116Q398 126 390.6 138.5L393.7 155.5" fill="none" stroke="#2b3034" stroke-width="1.3"/><path d="M414.6 107L407.7 116" stroke="#1e2226" stroke-width="2.6" stroke-linecap="round"/><g transform="translate(30.3,-1.5)"><path d="M362 157.5H366L366.5 162Q373 164 377.5 168Q380.5 171 379.5 173.5L356 174.2Q353.5 172 354 167Q356 163 361.5 162Z" fill="#1f282e"/><path d="M358 169Q365 166 373 169Q366 170.5 358 169Z" fill="#6c848c"/></g>
<path d="M395 341.5 L400 340 L400 369 L301 391 L300.5 371.5Z" fill="#2f3032" stroke="#2f3032" stroke-width="0.5" stroke-linejoin="round"/><path d="M300.5 373.5L301 390" stroke="#444649" stroke-width="0.9"/><path d="M307.2 371.4L308.1 388.4" stroke="#444649" stroke-width="0.9"/><path d="M314 369.2L315.1 386.9" stroke="#444649" stroke-width="0.9"/><path d="M320.8 367.1L322.2 385.3" stroke="#444649" stroke-width="0.9"/><path d="M327.5 364.9L329.3 383.7" stroke="#444649" stroke-width="0.9"/><path d="M334.2 362.8L336.4 382.1" stroke="#444649" stroke-width="0.9"/><path d="M341 360.6L343.4 380.6" stroke="#444649" stroke-width="0.9"/><path d="M347.8 358.5L350.5 379" stroke="#444649" stroke-width="0.9"/><path d="M354.5 356.4L357.6 377.4" stroke="#444649" stroke-width="0.9"/><path d="M361.2 354.2L364.6 375.9" stroke="#444649" stroke-width="0.9"/><path d="M368 352.1L371.7 374.3" stroke="#444649" stroke-width="0.9"/><path d="M374.8 349.9L378.8 372.7" stroke="#444649" stroke-width="0.9"/><path d="M381.5 347.8L385.9 371.1" stroke="#444649" stroke-width="0.9"/><path d="M388.2 345.6L392.9 369.6" stroke="#444649" stroke-width="0.9"/><path d="M240 337 L300.5 371.5 L301 391 L241 352Z" fill="#36383b" stroke="#36383b" stroke-width="0.5" stroke-linejoin="round"/><path d="M240 338L300.5 372.5" stroke="#8a8c90" stroke-width="1"/><path d="M241 343L301.5 379.5" stroke="#202123" stroke-width="1.5"/><path d="M240 337 L311 318 L395 341.5 L300.5 371.5Z" fill="#2a2c30" stroke="#2a2c30" stroke-width="0.5" stroke-linejoin="round"/><path d="M310.1 320.5 L384.3 342.4 L306.8 366.8 L250.2 336.8Z" fill="#34373c" stroke="#34373c" stroke-width="0.5" stroke-linejoin="round"/><path d="M246 340L305 368.5" stroke="#8e9196" stroke-width="0.9"/><path d="M252 337L309 364" stroke="#55585e" stroke-width="0.8"/><path d="M328.9 338.4 L368 349.1 L364.4 354.8 L323.6 344.9Z" fill="#2a4cb4" stroke="#2a4cb4" stroke-width="0.5" stroke-linejoin="round"/><path d="M345 345.5 L360 349.6 L358.5 352 L343.5 348Z" fill="#7f9ce8" stroke="#7f9ce8" stroke-width="0.5" stroke-linejoin="round"/><rect x="279" y="327.5" width="3.2" height="1.7" fill="#c4c8ce"/><rect x="276.6" y="330.8" width="3.2" height="1.7" fill="#c4c8ce"/><rect x="274.2" y="334.1" width="3.2" height="1.7" fill="#c4c8ce"/><rect x="271.8" y="337.4" width="3.2" height="1.7" fill="#c4c8ce"/><rect x="269.4" y="340.7" width="3.2" height="1.7" fill="#c4c8ce"/><rect x="284.2" y="328.9" width="3.2" height="1.7" fill="#c4c8ce"/><rect x="281.8" y="332.2" width="3.2" height="1.7" fill="#c4c8ce"/><rect x="279.4" y="335.5" width="3.2" height="1.7" fill="#c4c8ce"/><rect x="277" y="338.8" width="3.2" height="1.7" fill="#c4c8ce"/><rect x="274.6" y="342.1" width="3.2" height="1.7" fill="#c4c8ce"/><rect x="289.4" y="330.3" width="3.2" height="1.7" fill="#c4c8ce"/><rect x="287" y="333.6" width="3.2" height="1.7" fill="#c4c8ce"/><rect x="284.6" y="336.9" width="3.2" height="1.7" fill="#c4c8ce"/><rect x="282.2" y="340.2" width="3.2" height="1.7" fill="#c4c8ce"/><rect x="279.8" y="343.5" width="3.2" height="1.7" fill="#c4c8ce"/><rect x="294.6" y="331.7" width="3.2" height="1.7" fill="#c4c8ce"/><rect x="292.2" y="335" width="3.2" height="1.7" fill="#c4c8ce"/><rect x="289.8" y="338.3" width="3.2" height="1.7" fill="#c4c8ce"/><rect x="287.4" y="341.6" width="3.2" height="1.7" fill="#c4c8ce"/><rect x="285" y="344.9" width="3.2" height="1.7" fill="#c4c8ce"/><rect x="299.8" y="333.1" width="3.2" height="1.7" fill="#c4c8ce"/><rect x="297.4" y="336.4" width="3.2" height="1.7" fill="#c4c8ce"/><rect x="295" y="339.7" width="3.2" height="1.7" fill="#c4c8ce"/><rect x="292.6" y="343" width="3.2" height="1.7" fill="#c4c8ce"/><rect x="290.2" y="346.3" width="3.2" height="1.7" fill="#c4c8ce"/><rect x="305" y="334.5" width="3.2" height="1.7" fill="#c4c8ce"/><rect x="302.6" y="337.8" width="3.2" height="1.7" fill="#c4c8ce"/><rect x="300.2" y="341.1" width="3.2" height="1.7" fill="#c4c8ce"/><rect x="297.8" y="344.4" width="3.2" height="1.7" fill="#c4c8ce"/><rect x="295.4" y="347.7" width="3.2" height="1.7" fill="#c4c8ce"/><rect x="310.2" y="335.9" width="3.2" height="1.7" fill="#c4c8ce"/><rect x="307.8" y="339.2" width="3.2" height="1.7" fill="#c4c8ce"/><rect x="305.4" y="342.5" width="3.2" height="1.7" fill="#c4c8ce"/><rect x="315.4" y="337.3" width="3.2" height="1.7" fill="#c4c8ce"/><rect x="313" y="340.6" width="3.2" height="1.7" fill="#c4c8ce"/><rect x="310.6" y="343.9" width="3.2" height="1.7" fill="#c4c8ce"/><rect x="296" y="350" width="3" height="1.6" fill="#b8bcc2"/><rect x="301" y="352.5" width="3" height="1.6" fill="#b8bcc2"/><rect x="312" y="355" width="3" height="1.6" fill="#b8bcc2"/><rect x="317" y="357" width="3" height="1.6" fill="#b8bcc2"/><rect x="322" y="358.5" width="3" height="1.6" fill="#b8bcc2"/><circle cx="268.4" cy="334" r="2.6" fill="#141414"/><circle cx="267.7" cy="333.2" r="1" fill="#7a7a7a"/><circle cx="305.8" cy="351.8" r="2.6" fill="#141414"/><circle cx="305.1" cy="351" r="1" fill="#7a7a7a"/><circle cx="332.4" cy="354.4" r="2.6" fill="#141414"/><circle cx="331.7" cy="353.6" r="1" fill="#7a7a7a"/><path d="M405 244 L418.5 249 L407 346 L394 343.5Z" fill="#3a3b3e" stroke="#3a3b3e" stroke-width="0.5" stroke-linejoin="round"/><path d="M326.5 234 L405 244 L394 343.5 L311 317Z" fill="#1c1d1f" stroke="#1c1d1f" stroke-width="0.5" stroke-linejoin="round"/><path d="M327 229 L404 239 L405 244 L326.5 234Z" fill="#2a2b2d" stroke="#2a2b2d" stroke-width="0.5" stroke-linejoin="round"/><path d="M340 229.5L386 235.5" stroke="#111" stroke-width="2.5"/><path d="M336.5 245.5 L403.5 253 L390.5 327.8 L320 308.5Z" fill="#101014" stroke="#101014" stroke-width="0.5" stroke-linejoin="round"/><filter id="bl3" x="-5%" y="-5%" width="110%" height="110%"><feGaussianBlur stdDeviation="0.8"/></filter><g filter="url(#bl3)"><linearGradient id="sc1" x1="0" y1="0" x2="1" y2="0"><stop offset="0" stop-color="#3a2a9a"/><stop offset="0.35" stop-color="#4a34b0"/><stop offset="0.7" stop-color="#221a58"/><stop offset="1" stop-color="#10141e"/></linearGradient><path d="M336.9 246.1 L364 249.1 L357.6 277.9 L329.9 272.8Z" fill="url(#sc1)"/><path d="M344.2 247.7 L349.6 248.3 L350.8 260.7 L345.1 261.2Z" fill="#3aa868" stroke="#3aa868" stroke-width="0.5" stroke-linejoin="round"/><path d="M334.4 261.6 L359.5 265.4 L357 276.9 L331.6 272.3Z" fill="#161a28" stroke="#161a28" stroke-width="0.5" stroke-linejoin="round"/><linearGradient id="sc2" x1="0" y1="0" x2="0" y2="1"><stop offset="0" stop-color="#6a88e0"/><stop offset="0.4" stop-color="#b8d0fa"/><stop offset="0.7" stop-color="#5060b0"/><stop offset="1" stop-color="#141830"/></linearGradient><path d="M365.1 249.3 L402.9 253.5 L397.3 285.2 L358.7 278.1Z" fill="url(#sc2)"/><path d="M369.7 250.6 L371.7 250.9 L371.7 270.9 L369.7 270.6Z" fill="#e4eeff" stroke="#e4eeff" stroke-width="0.5" stroke-linejoin="round"/><path d="M376.4 251.4 L378.4 251.6 L377.1 271.8 L375.1 271.5Z" fill="#e4eeff" stroke="#e4eeff" stroke-width="0.5" stroke-linejoin="round"/><path d="M383.1 252.2 L385.1 252.4 L381.2 272.5 L379.2 272.1Z" fill="#e4eeff" stroke="#e4eeff" stroke-width="0.5" stroke-linejoin="round"/><path d="M389.8 252.9 L391.8 253.2 L385.3 273.1 L383.3 272.8Z" fill="#e4eeff" stroke="#e4eeff" stroke-width="0.5" stroke-linejoin="round"/><path d="M396.5 253.7 L398.5 254 L390.8 274 L388.7 273.7Z" fill="#e4eeff" stroke="#e4eeff" stroke-width="0.5" stroke-linejoin="round"/><ellipse cx="376.5" cy="271.7" rx="3" ry="4" fill="#1a1a38"/><linearGradient id="sc3" x1="0" y1="0" x2="0" y2="1"><stop offset="0" stop-color="#5a50c0"/><stop offset="1" stop-color="#1c1840"/></linearGradient><path d="M329.7 273.8 L345.7 276.8 L342.2 291.6 L326 288Z" fill="url(#sc3)"/><linearGradient id="sc4" x1="0" y1="0" x2="0" y2="1"><stop offset="0" stop-color="#90a0ec"/><stop offset="0.5" stop-color="#6070c8"/><stop offset="1" stop-color="#1a1a40"/></linearGradient><path d="M346.8 277 L362.8 280 L359.5 295.4 L343.3 291.8Z" fill="url(#sc4)"/><linearGradient id="sc5" x1="0" y1="0" x2="0" y2="1"><stop offset="0" stop-color="#3a1a10"/><stop offset="0.5" stop-color="#c07838"/><stop offset="1" stop-color="#3a1a0c"/></linearGradient><path d="M363.9 280.2 L380 283.2 L376.9 299.3 L360.6 295.7Z" fill="url(#sc5)"/><linearGradient id="sc6" x1="0" y1="0" x2="0" y2="1"><stop offset="0" stop-color="#2a1a50"/><stop offset="0.5" stop-color="#4a3080"/><stop offset="1" stop-color="#1a1030"/></linearGradient><path d="M381.1 283.4 L397.1 286.4 L394.2 303.1 L378 299.5Z" fill="url(#sc6)"/><linearGradient id="sc7" x1="0" y1="0" x2="0" y2="1"><stop offset="0" stop-color="#3a2410"/><stop offset="0.4" stop-color="#c89040"/><stop offset="1" stop-color="#2a1808"/></linearGradient><path d="M325.7 289 L341.9 292.6 L337.2 312.6 L320.7 308.1Z" fill="url(#sc7)"/><linearGradient id="sc8" x1="0" y1="0" x2="0" y2="1"><stop offset="0" stop-color="#6a3a10"/><stop offset="0.45" stop-color="#f0a848"/><stop offset="1" stop-color="#5a2a08"/></linearGradient><path d="M343.1 292.9 L359.3 296.5 L354.8 317.4 L338.3 313Z" fill="url(#sc8)"/><linearGradient id="sc9" x1="0" y1="0" x2="0" y2="1"><stop offset="0" stop-color="#3a6ae0"/><stop offset="1" stop-color="#2a50c0"/></linearGradient><path d="M381 302.9 L393.7 305.8 L392.6 312.1 L379.8 309Z" fill="url(#sc9)"/><path d="M379.7 310.3 L392.3 313.4 L389.9 326.9 L377.2 323.4Z" fill="#141a34" stroke="#141a34" stroke-width="0.5" stroke-linejoin="round"/><circle cx="376.3" cy="258.6" r="2.5" fill="#e8eeff"/><circle cx="385.6" cy="256.9" r="2" fill="#dfe6ff"/><circle cx="390.7" cy="266.5" r="1.8" fill="#c8d4ff"/><circle cx="342.2" cy="250.1" r="1.8" fill="#60e080"/><circle cx="390.1" cy="289.1" r="1" fill="#f0d040"/><circle cx="385.7" cy="285.9" r="1" fill="#e8c040"/><circle cx="355.1" cy="278.7" r="1.5" fill="#e0e8ff"/></g><ellipse cx="365.3" cy="309" rx="4.6" ry="6" fill="#ececec"/><path d="M365.3 309l0 -4M365.3 309l3 1" stroke="#333" stroke-width="0.6"/>
<linearGradient id="twside" x1="0" y1="0" x2="1" y2="0"><stop offset="0" stop-color="#4a4a4d"/><stop offset="0.5" stop-color="#1c1c1e"/><stop offset="1" stop-color="#0c0c0d"/></linearGradient><path d="M628.7 113 L636.7 110.7 L635.3 168 L628 166Z" fill="url(#twside)"/><path d="M636.7 110.7 L659.3 112.7 L661.3 169.3 L635.3 168Z" fill="#161618" stroke="#161618" stroke-width="0.5" stroke-linejoin="round"/><path d="M638.5 114.5 L658.5 116 L658.8 141.3 L638.3 140Z" fill="#232427" stroke="#48494c" stroke-width="0.8"/><path d="M639 119L658.5 119.8" stroke="#3a3b3e" stroke-width="0.7"/><path d="M639 123.5L658.5 124.3" stroke="#3a3b3e" stroke-width="0.7"/><path d="M639 128L658.5 128.8" stroke="#3a3b3e" stroke-width="0.7"/><path d="M639 132.5L658.5 133.3" stroke="#3a3b3e" stroke-width="0.7"/><path d="M639 137L658.5 137.8" stroke="#3a3b3e" stroke-width="0.7"/><rect x="646.3" y="146.8" width="4.4" height="2.6" fill="#c8c8c8"/><path d="M635.3 168 L661.3 169.3 L661.3 171 L635.3 170Z" fill="#9a9a9c" stroke="#9a9a9c" stroke-width="0.5" stroke-linejoin="round"/><path d="M594 153 L609 153.5 L611 161 L596 161.5Z" fill="#8e9092" stroke="#8e9092" stroke-width="0.5" stroke-linejoin="round"/><ellipse cx="599" cy="163" rx="17" ry="2.8" fill="#b4b6b8"/><path d="M574.7 114.7 L600.7 111.3 L630.7 104.7 L628.7 154 L571.3 150.7Z" fill="#0e0e0f" stroke="#0e0e0f" stroke-width="0.5" stroke-linejoin="round"/><path d="M577 118 L627.5 108.5 L626 145.5 L574.5 143Z" fill="#1d1e20" stroke="#1d1e20" stroke-width="0.5" stroke-linejoin="round"/><path d="M577 118 L627.5 108.5 L627 118 L576 127Z" fill="#2a2b2e" stroke="#2a2b2e" stroke-width="0.5" stroke-linejoin="round"/><rect x="582" y="151" width="2.5" height="1.2" fill="#aaa"/><path d="M629.6 106L627.9 152.5" stroke="#6a6b6e" stroke-width="1.2"/><path d="M563.3 162.7 L624 168 L623.5 174.5 L619 178.7 L555.3 171 L555.3 168.5Z" fill="#141416" stroke="#141416" stroke-width="0.5" stroke-linejoin="round"/><path d="M563.8 163.7 L622.5 168.6 L619 173.5 L559 168.3Z" fill="#2b2c2f" stroke="#2b2c2f" stroke-width="0.5" stroke-linejoin="round"/><ellipse cx="630" cy="176" rx="8.7" ry="4" fill="#1a1a1c"/><ellipse cx="629" cy="174.8" rx="5" ry="1.6" fill="#4a4b4e"/>
<g><path d="M684 207 L690.4 205.5 L692 303 L686 304Z" fill="#1e1e1f" stroke="#1e1e1f" stroke-width="0.5" stroke-linejoin="round"/><path d="M554.4 215.5 L685 207 L686 304 L555.3 293.6Z" fill="#28282a" stroke="#28282a" stroke-width="0.5" stroke-linejoin="round"/><path d="M557.5 218.5 L682.5 210.5 L683 300.5 L558 290.5Z" fill="#353638" stroke="#353638" stroke-width="0.5" stroke-linejoin="round"/><path d="M560 221 L571 220.5 L571 288 L560 287Z" fill="#2e2f31" stroke="#2e2f31" stroke-width="0.5" stroke-linejoin="round"/><path d="M665 217 L681 215.5 L681 297 L665 295Z" fill="#303133" stroke="#303133" stroke-width="0.5" stroke-linejoin="round"/><path d="M555 216L685 207.5" stroke="#4a4a4c" stroke-width="0.8"/><rect x="590" y="283.3" width="2" height="1.2" fill="#6a6b6e"/><rect x="594.6" y="283.3" width="2" height="1.2" fill="#6a6b6e"/><rect x="599.2" y="283.3" width="2" height="1.2" fill="#6a6b6e"/><rect x="603.8" y="283.3" width="2" height="1.2" fill="#6a6b6e"/><rect x="608.4" y="283.3" width="2" height="1.2" fill="#6a6b6e"/><rect x="613" y="283.3" width="2" height="1.2" fill="#6a6b6e"/><rect x="617.6" y="283.3" width="2" height="1.2" fill="#6a6b6e"/><rect x="622.2" y="283.3" width="2" height="1.2" fill="#6a6b6e"/><rect x="626.8" y="283.3" width="2" height="1.2" fill="#6a6b6e"/><rect x="631.4" y="283.3" width="2" height="1.2" fill="#6a6b6e"/><rect x="636" y="283.3" width="2" height="1.2" fill="#6a6b6e"/><rect x="640.6" y="283.3" width="2" height="1.2" fill="#6a6b6e"/><rect x="645.2" y="283.3" width="2" height="1.2" fill="#6a6b6e"/><rect x="649.8" y="283.3" width="2" height="1.2" fill="#6a6b6e"/><path d="M572.8 242H563.3V268.2H572.8" fill="none" stroke="#c9cacc" stroke-width="1.8"/><path d="M671 240.5V273.4" stroke="#c9cacc" stroke-width="2.2"/><rect x="690.5" y="249.5" width="5" height="9.5" rx="1.5" fill="#161616"/><rect x="561" y="293" width="6" height="3" fill="#111"/><rect x="672" y="304" width="6" height="3" fill="#111"/><linearGradient id="s1bg" x1="0" y1="0" x2="0" y2="1"><stop offset="0" stop-color="#5e6270"/><stop offset="0.4" stop-color="#6a6a76"/><stop offset="0.42" stop-color="#8c8e94"/><stop offset="0.7" stop-color="#8e9094"/><stop offset="0.75" stop-color="#a8a8ac"/><stop offset="1" stop-color="#8a8a90"/></linearGradient><filter id="bl2" x="-5%" y="-5%" width="110%" height="110%"><feGaussianBlur stdDeviation="0.8"/></filter><clipPath id="s1clip"><path d="M574.6 220L662.3 217.3L662.3 280.5L574.6 277.8Z"/></clipPath><g clip-path="url(#s1clip)"><g filter="url(#bl2)"><path d="M572.8 218.9 L664.1 216 L664.1 282.5 L572.8 279.5Z" fill="url(#s1bg)"/><ellipse cx="595.5" cy="232.7" rx="2.7" ry="2.3" fill="#4a4a58" opacity="0.55"/><ellipse cx="625.5" cy="233.5" rx="1.6" ry="1.9" fill="#5a6a80" opacity="0.55"/><ellipse cx="661.9" cy="229.9" rx="1.8" ry="3.1" fill="#5a6a80" opacity="0.55"/><ellipse cx="594.9" cy="224.4" rx="2.4" ry="2.7" fill="#b8b0b8" opacity="0.55"/><ellipse cx="580.2" cy="237.4" rx="1.7" ry="1.5" fill="#9a4444" opacity="0.55"/><ellipse cx="650.5" cy="230.2" rx="2.3" ry="3.2" fill="#b8b0b8" opacity="0.55"/><ellipse cx="609.2" cy="238" rx="2.7" ry="1.7" fill="#5a6a80" opacity="0.55"/><ellipse cx="606.7" cy="221.6" rx="1.5" ry="3.3" fill="#5a6a80" opacity="0.55"/><ellipse cx="612.9" cy="234.2" rx="1.9" ry="3.1" fill="#a06868" opacity="0.55"/><ellipse cx="624.9" cy="232" rx="2.1" ry="3.2" fill="#b8b0b8" opacity="0.55"/><ellipse cx="634.4" cy="240.6" rx="2.8" ry="2.7" fill="#a06868" opacity="0.55"/><ellipse cx="588.9" cy="239.5" rx="2.3" ry="1.8" fill="#c8c4c8" opacity="0.55"/><ellipse cx="647.5" cy="232.5" rx="1.4" ry="2.4" fill="#a06868" opacity="0.55"/><ellipse cx="630.6" cy="230.8" rx="2.5" ry="2.2" fill="#4a4a58" opacity="0.55"/><ellipse cx="587.8" cy="227.6" rx="2.6" ry="1.5" fill="#b8b0b8" opacity="0.55"/><ellipse cx="628.5" cy="221.2" rx="2.1" ry="3.2" fill="#4a4a58" opacity="0.55"/><ellipse cx="599.1" cy="226.1" rx="1.7" ry="1.6" fill="#9a4444" opacity="0.55"/><ellipse cx="627.2" cy="220.9" rx="2.8" ry="2" fill="#7a8090" opacity="0.55"/><ellipse cx="597.7" cy="235.8" rx="1.7" ry="3.3" fill="#4a4a58" opacity="0.55"/><ellipse cx="653.2" cy="228" rx="2.6" ry="2.2" fill="#5a6a80" opacity="0.55"/><ellipse cx="650.6" cy="234.9" rx="2.2" ry="3.3" fill="#c8c4c8" opacity="0.55"/><ellipse cx="619.1" cy="229.8" rx="2.7" ry="2.3" fill="#7a8090" opacity="0.55"/><ellipse cx="597.2" cy="227.5" rx="1.2" ry="2.2" fill="#4a4a58" opacity="0.55"/><ellipse cx="625.5" cy="220.7" rx="1.3" ry="2.7" fill="#3a3a44" opacity="0.55"/><ellipse cx="615.5" cy="235.3" rx="2.2" ry="2" fill="#4a4a58" opacity="0.55"/><ellipse cx="617.5" cy="233.3" rx="2.7" ry="1.9" fill="#9a4444" opacity="0.55"/><ellipse cx="614.6" cy="233.4" rx="1.5" ry="1.8" fill="#4a4a58" opacity="0.55"/><ellipse cx="641.1" cy="238.6" rx="1.7" ry="2.2" fill="#a06868" opacity="0.55"/><ellipse cx="642.3" cy="220.4" rx="1.7" ry="1.8" fill="#3a3a44" opacity="0.55"/><ellipse cx="645.1" cy="225" rx="2.3" ry="2.7" fill="#3a3a44" opacity="0.55"/><ellipse cx="583.1" cy="234.1" rx="2.3" ry="1.8" fill="#4a4a58" opacity="0.55"/><ellipse cx="645.6" cy="241.2" rx="1.7" ry="2.7" fill="#c8c4c8" opacity="0.55"/><ellipse cx="652.2" cy="229.7" rx="2.5" ry="1.5" fill="#7a8090" opacity="0.55"/><ellipse cx="658.6" cy="226.4" rx="2.6" ry="2.1" fill="#3a3a44" opacity="0.55"/><ellipse cx="647.2" cy="221.6" rx="2.1" ry="2.2" fill="#4a4a58" opacity="0.55"/><ellipse cx="620.1" cy="239" rx="1.8" ry="2.2" fill="#5a6a80" opacity="0.55"/><ellipse cx="611.4" cy="229.5" rx="1.4" ry="1.4" fill="#b8b0b8" opacity="0.55"/><ellipse cx="657.3" cy="239.3" rx="2.1" ry="3.4" fill="#b8b0b8" opacity="0.55"/><ellipse cx="637.5" cy="220.6" rx="2.5" ry="2.7" fill="#5a6a80" opacity="0.55"/><ellipse cx="620.1" cy="226.7" rx="2.6" ry="3.1" fill="#4a4a58" opacity="0.55"/><ellipse cx="649.8" cy="241.4" rx="2.5" ry="1.5" fill="#c8c4c8" opacity="0.55"/><ellipse cx="653.8" cy="235.1" rx="2.6" ry="3.2" fill="#7a8090" opacity="0.55"/><ellipse cx="625.2" cy="220.6" rx="1.5" ry="2" fill="#c8c4c8" opacity="0.55"/><ellipse cx="632.7" cy="231.7" rx="1.3" ry="3.2" fill="#b8b0b8" opacity="0.55"/><ellipse cx="584.6" cy="224.1" rx="2.5" ry="1.5" fill="#5a6a80" opacity="0.55"/><ellipse cx="594" cy="223.8" rx="1.5" ry="3" fill="#c8c4c8" opacity="0.55"/><ellipse cx="655.4" cy="237.6" rx="2" ry="2.5" fill="#9a4444" opacity="0.55"/><ellipse cx="609.7" cy="237" rx="1.6" ry="2.5" fill="#7a8090" opacity="0.55"/><ellipse cx="611.7" cy="230.9" rx="2.6" ry="3" fill="#9a4444" opacity="0.55"/><ellipse cx="578.7" cy="222.7" rx="2.8" ry="3.1" fill="#5a6a80" opacity="0.55"/><ellipse cx="582.2" cy="232" rx="1.5" ry="1.5" fill="#4a4a58" opacity="0.55"/><ellipse cx="608.4" cy="229.2" rx="1.8" ry="1.8" fill="#a06868" opacity="0.55"/><ellipse cx="603.4" cy="223.6" rx="2.3" ry="2.2" fill="#9a4444" opacity="0.55"/><ellipse cx="581.6" cy="225.3" rx="1.9" ry="2.7" fill="#4a4a58" opacity="0.55"/><ellipse cx="622.1" cy="234.3" rx="2.2" ry="2.3" fill="#9a4444" opacity="0.55"/><ellipse cx="607.3" cy="231.5" rx="1.9" ry="2.8" fill="#4a4a58" opacity="0.55"/><ellipse cx="615" cy="225.9" rx="2.3" ry="1.5" fill="#a06868" opacity="0.55"/><ellipse cx="611.9" cy="229.9" rx="2.7" ry="2.1" fill="#9a4444" opacity="0.55"/><ellipse cx="653.3" cy="237.3" rx="1.4" ry="2.8" fill="#a06868" opacity="0.55"/><ellipse cx="657" cy="235.9" rx="2.3" ry="2.9" fill="#b8b0b8" opacity="0.55"/><path d="M621 250L637 248.5L640 256L639 263L622 262Z" fill="#dcdde4"/><path d="M621.7 242.5L638.6 242.8L638 249.8L622 250.5Z" fill="#2c4ca6"/><rect x="630" y="243" width="2" height="7" fill="#e8e8f0"/><ellipse cx="638.7" cy="258.3" rx="4.2" ry="6.3" fill="#18181a"/><ellipse cx="639.3" cy="258.3" rx="2" ry="3.5" fill="#c8c8cc"/><path d="M576 270L580 260L590 252L597 247.5L612 247L622 249L628 256L629 268L626 276L578 277.5Z" fill="#d8c42e"/><path d="M583 262L589 257.5L598 269L592 273Z" fill="#eeeeea"/><path d="M597 248L602 246L604 252L599 253Z" fill="#222"/><circle cx="600" cy="247" r="1.6" fill="#f0f0f0"/><rect x="607.5" y="256" width="6" height="21.5" rx="2.5" fill="#1c1c1e"/><rect x="576" y="266" width="5" height="11" rx="2" fill="#222"/><rect x="600" y="243.5" width="19" height="4" fill="#e2cc36"/><path d="M615 262L626 260L627 272L616 274Z" fill="#c8b428"/></g></g><path d="M576 274L590 276L590 279.4H575Z" fill="#4a4a4c"/></g>
<g transform="translate(0.4,130.5)"><path d="M684 207 L690.4 205.5 L692 303 L686 304Z" fill="#1e1e1f" stroke="#1e1e1f" stroke-width="0.5" stroke-linejoin="round"/><path d="M554.4 215.5 L685 207 L686 304 L555.3 293.6Z" fill="#28282a" stroke="#28282a" stroke-width="0.5" stroke-linejoin="round"/><path d="M557.5 218.5 L682.5 210.5 L683 300.5 L558 290.5Z" fill="#353638" stroke="#353638" stroke-width="0.5" stroke-linejoin="round"/><path d="M560 221 L571 220.5 L571 288 L560 287Z" fill="#2e2f31" stroke="#2e2f31" stroke-width="0.5" stroke-linejoin="round"/><path d="M665 217 L681 215.5 L681 297 L665 295Z" fill="#303133" stroke="#303133" stroke-width="0.5" stroke-linejoin="round"/><path d="M555 216L685 207.5" stroke="#4a4a4c" stroke-width="0.8"/><rect x="590" y="283.3" width="2" height="1.2" fill="#6a6b6e"/><rect x="594.6" y="283.3" width="2" height="1.2" fill="#6a6b6e"/><rect x="599.2" y="283.3" width="2" height="1.2" fill="#6a6b6e"/><rect x="603.8" y="283.3" width="2" height="1.2" fill="#6a6b6e"/><rect x="608.4" y="283.3" width="2" height="1.2" fill="#6a6b6e"/><rect x="613" y="283.3" width="2" height="1.2" fill="#6a6b6e"/><rect x="617.6" y="283.3" width="2" height="1.2" fill="#6a6b6e"/><rect x="622.2" y="283.3" width="2" height="1.2" fill="#6a6b6e"/><rect x="626.8" y="283.3" width="2" height="1.2" fill="#6a6b6e"/><rect x="631.4" y="283.3" width="2" height="1.2" fill="#6a6b6e"/><rect x="636" y="283.3" width="2" height="1.2" fill="#6a6b6e"/><rect x="640.6" y="283.3" width="2" height="1.2" fill="#6a6b6e"/><rect x="645.2" y="283.3" width="2" height="1.2" fill="#6a6b6e"/><rect x="649.8" y="283.3" width="2" height="1.2" fill="#6a6b6e"/><path d="M572.8 242H563.3V268.2H572.8" fill="none" stroke="#c9cacc" stroke-width="1.8"/><path d="M671 240.5V273.4" stroke="#c9cacc" stroke-width="2.2"/><rect x="690.5" y="249.5" width="5" height="9.5" rx="1.5" fill="#161616"/><rect x="561" y="293" width="6" height="3" fill="#111"/><rect x="672" y="304" width="6" height="3" fill="#111"/></g>
<filter id="bl1" x="-5%" y="-5%" width="110%" height="110%"><feGaussianBlur stdDeviation="0.8"/></filter><clipPath id="s2clip"><path d="M575 351L662.3 348.3L662.3 411.5L575 408.8Z"/></clipPath><g clip-path="url(#s2clip)"><g filter="url(#bl1)"><path d="M575 351 L614.3 349.8 L614.3 379.9 L575 379.9Z" fill="#8a6a4c" stroke="#8a6a4c" stroke-width="0.5" stroke-linejoin="round"/><path d="M575 351 L614.3 349.8 L614.3 357 L575 357.9Z" fill="#7c9cc8" stroke="#7c9cc8" stroke-width="0.5" stroke-linejoin="round"/><path d="M585 361L592 357L598 360L603 356L608 362L604 372L596 376L588 371Z" fill="#d8b048"/><path d="M590 362L596 364L601 361L599 369L593 370Z" fill="#2a1c14"/><path d="M576 366L584 362L586 374L577 378Z" fill="#b04a30"/><path d="M603 366L613 364L613 378L606 378Z" fill="#5a5048"/><path d="M614.3 349.8 L662.3 348.3 L662.3 379.9 L614.3 379.9Z" fill="#6c6874" stroke="#6c6874" stroke-width="0.5" stroke-linejoin="round"/><path d="M614.3 367.9 L662.3 367.3 L662.3 379.9 L614.3 379.9Z" fill="#9a9ca0" stroke="#9a9ca0" stroke-width="0.5" stroke-linejoin="round"/><path d="M615 378L619 369L627 365L634 367L640 372L642 378Z" fill="#d4c440"/><path d="M624 366L630 364L631 376L625 377Z" fill="#efefe8"/><path d="M641 360L652 360L655 372L644 372Z" fill="#dcdde4"/><ellipse cx="650" cy="370" rx="2.5" ry="4" fill="#1a1a1c"/><circle cx="652.9" cy="361.7" r="1.6" fill="#8090a8" opacity="0.6"/><circle cx="621.9" cy="363.6" r="1.6" fill="#9a4444" opacity="0.6"/><circle cx="657.8" cy="364.6" r="1.6" fill="#9a4444" opacity="0.6"/><circle cx="626.4" cy="358.9" r="1.6" fill="#3a3a44" opacity="0.6"/><circle cx="626.3" cy="352.2" r="1.6" fill="#8090a8" opacity="0.6"/><circle cx="643.2" cy="361.6" r="1.6" fill="#9a4444" opacity="0.6"/><circle cx="650.7" cy="362.7" r="1.6" fill="#8090a8" opacity="0.6"/><circle cx="630.2" cy="352.8" r="1.6" fill="#9a4444" opacity="0.6"/><circle cx="625.9" cy="365.3" r="1.6" fill="#c8c4c8" opacity="0.6"/><circle cx="636.2" cy="356.1" r="1.6" fill="#c8c4c8" opacity="0.6"/><circle cx="641" cy="356.8" r="1.6" fill="#9a4444" opacity="0.6"/><circle cx="635.8" cy="359" r="1.6" fill="#8090a8" opacity="0.6"/><circle cx="636.7" cy="360.5" r="1.6" fill="#3a3a44" opacity="0.6"/><circle cx="627.3" cy="361.1" r="1.6" fill="#c8c4c8" opacity="0.6"/><circle cx="620.7" cy="361.4" r="1.6" fill="#c8c4c8" opacity="0.6"/><circle cx="658.2" cy="349.9" r="1.6" fill="#9a4444" opacity="0.6"/><circle cx="631.8" cy="357.8" r="1.6" fill="#8090a8" opacity="0.6"/><circle cx="638.8" cy="362.7" r="1.6" fill="#3a3a44" opacity="0.6"/><path d="M575 379.9 L614.3 379.9 L614.3 410 L575 408.8Z" fill="#6a5a54" stroke="#6a5a54" stroke-width="0.5" stroke-linejoin="round"/><path d="M575 381.1 L592.5 381.1 L592.5 392.9 L575 392.6Z" fill="#34405e" stroke="#34405e" stroke-width="0.5" stroke-linejoin="round"/><path d="M576.7 385.7 L590.7 385.8 L590.7 391.7 L576.7 391.5Z" fill="#c8c8d0" stroke="#c8c8d0" stroke-width="0.5" stroke-linejoin="round"/><path d="M592.5 382.8 L614.3 382.9 L614.3 398 L592.5 397.6Z" fill="#9a7064" stroke="#9a7064" stroke-width="0.5" stroke-linejoin="round"/><path d="M575 394.9 L592.5 395.2 L592.5 409.3 L575 408.8Z" fill="#8a6a48" stroke="#8a6a48" stroke-width="0.5" stroke-linejoin="round"/><path d="M592.5 397.6 L614.3 398 L614.3 410 L592.5 409.3Z" fill="#b89a60" stroke="#b89a60" stroke-width="0.5" stroke-linejoin="round"/><path d="M576.7 397.3 L588.1 397.5 L588.1 406.3 L576.7 406Z" fill="#d8b070" stroke="#d8b070" stroke-width="0.5" stroke-linejoin="round"/></g></g><path d="M614.3 379.9 L662.3 379.9 L662.3 411.5 L614.3 410Z" fill="#121416" stroke="#121416" stroke-width="0.5" stroke-linejoin="round"/><circle cx="623" cy="387.8" r="2.6" fill="#c02030"/><rect x="626" y="386.8" width="4" height="2" fill="#3a7a3a"/><path d="M620.4 394.4L620.4 407.2" stroke="#5a6658" stroke-width="1"/><path d="M624.3 394.5L624.3 407.3" stroke="#5a6658" stroke-width="1"/><path d="M628.3 394.6L628.3 407.4" stroke="#5a6658" stroke-width="1"/><path d="M632.2 394.6L632.2 407.5" stroke="#5a6658" stroke-width="1"/><path d="M636.1 394.7L636.1 407.6" stroke="#5a6658" stroke-width="1"/><path d="M640 394.7L640 407.7" stroke="#5a6658" stroke-width="1"/><path d="M644 394.8L644 407.8" stroke="#5a6658" stroke-width="1"/><path d="M648.3 392.4L659.7 392.5" stroke="#454a4c" stroke-width="0.9"/><path d="M648.3 397.4L659.7 397.6" stroke="#454a4c" stroke-width="0.9"/><path d="M648.3 402.3L659.7 402.6" stroke="#454a4c" stroke-width="0.9"/><path d="M648.3 407.3L659.7 407.6" stroke="#454a4c" stroke-width="0.9"/><rect x="650.6" y="385.2" width="6" height="2.2" fill="#c8c8c8"/><path d="M627.4 383 L644.8 383 L644.8 386.1 L627.4 386Z" fill="#3a3e40" stroke="#3a3e40" stroke-width="0.5" stroke-linejoin="round"/>
<linearGradient id="procTop" x1="0" y1="0" x2="1" y2="0"><stop offset="0" stop-color="#1a1a1a"/><stop offset="0.45" stop-color="#2a2a2a"/><stop offset="0.85" stop-color="#8c8c8c"/><stop offset="1" stop-color="#4a4a4a"/></linearGradient><path d="M445.2 471.2 L561.9 473.3 L561.9 477.4 L431.2 477.4Z" fill="url(#procTop)"/><path d="M431.2 477.4 L561.9 477.4 L561.9 491.6 L431.2 491.6Z" fill="#141415" stroke="#141415" stroke-width="0.5" stroke-linejoin="round"/><rect x="495.8" y="480.6" width="28.7" height="4.6" fill="#6f8a6c"/><rect x="496.6" y="481.5" width="1.6" height="2.8" fill="#c6d2c2"/><rect x="499.9" y="481.5" width="1.6" height="2.8" fill="#c6d2c2"/><rect x="503.2" y="481.5" width="1.6" height="2.8" fill="#c6d2c2"/><rect x="506.5" y="481.5" width="1.6" height="2.8" fill="#c6d2c2"/><rect x="509.8" y="481.5" width="1.6" height="2.8" fill="#c6d2c2"/><rect x="513.1" y="481.5" width="1.6" height="2.8" fill="#c6d2c2"/><rect x="516.4" y="481.5" width="1.6" height="2.8" fill="#c6d2c2"/><rect x="519.7" y="481.5" width="1.6" height="2.8" fill="#c6d2c2"/><rect x="526.9" y="480.6" width="28" height="4.6" fill="#6f8a6c"/><rect x="527.7" y="481.5" width="1.6" height="2.8" fill="#c6d2c2"/><rect x="531" y="481.5" width="1.6" height="2.8" fill="#c6d2c2"/><rect x="534.3" y="481.5" width="1.6" height="2.8" fill="#c6d2c2"/><rect x="537.6" y="481.5" width="1.6" height="2.8" fill="#c6d2c2"/><rect x="540.9" y="481.5" width="1.6" height="2.8" fill="#c6d2c2"/><rect x="544.2" y="481.5" width="1.6" height="2.8" fill="#c6d2c2"/><rect x="547.5" y="481.5" width="1.6" height="2.8" fill="#c6d2c2"/><rect x="550.8" y="481.5" width="1.6" height="2.8" fill="#c6d2c2"/><rect x="476.3" y="486.8" width="17.9" height="4" fill="#6f8a6c"/><rect x="477.1" y="487.7" width="1.6" height="2.2" fill="#c6d2c2"/><rect x="480.4" y="487.7" width="1.6" height="2.2" fill="#c6d2c2"/><rect x="483.7" y="487.7" width="1.6" height="2.2" fill="#c6d2c2"/><rect x="487" y="487.7" width="1.6" height="2.2" fill="#c6d2c2"/><rect x="490.3" y="487.7" width="1.6" height="2.2" fill="#c6d2c2"/><rect x="495.8" y="486.8" width="28.7" height="4" fill="#6f8a6c"/><rect x="496.6" y="487.7" width="1.6" height="2.2" fill="#c6d2c2"/><rect x="499.9" y="487.7" width="1.6" height="2.2" fill="#c6d2c2"/><rect x="503.2" y="487.7" width="1.6" height="2.2" fill="#c6d2c2"/><rect x="506.5" y="487.7" width="1.6" height="2.2" fill="#c6d2c2"/><rect x="509.8" y="487.7" width="1.6" height="2.2" fill="#c6d2c2"/><rect x="513.1" y="487.7" width="1.6" height="2.2" fill="#c6d2c2"/><rect x="516.4" y="487.7" width="1.6" height="2.2" fill="#c6d2c2"/><rect x="519.7" y="487.7" width="1.6" height="2.2" fill="#c6d2c2"/><rect x="526.9" y="486.8" width="28" height="4" fill="#6f8a6c"/><rect x="527.7" y="487.7" width="1.6" height="2.2" fill="#c6d2c2"/><rect x="531" y="487.7" width="1.6" height="2.2" fill="#c6d2c2"/><rect x="534.3" y="487.7" width="1.6" height="2.2" fill="#c6d2c2"/><rect x="537.6" y="487.7" width="1.6" height="2.2" fill="#c6d2c2"/><rect x="540.9" y="487.7" width="1.6" height="2.2" fill="#c6d2c2"/><rect x="544.2" y="487.7" width="1.6" height="2.2" fill="#c6d2c2"/><rect x="547.5" y="487.7" width="1.6" height="2.2" fill="#c6d2c2"/><rect x="550.8" y="487.7" width="1.6" height="2.2" fill="#c6d2c2"/><rect x="440.5" y="479.8" width="7.8" height="10" fill="#222" stroke="#6a6a6a" stroke-width="0.7"/><rect x="442.5" y="482" width="3.8" height="5" fill="#0a0a0a"/><rect x="467" y="483.7" width="5.4" height="5.4" fill="#d0d0d0"/><rect x="466" y="479.5" width="10" height="1" fill="#555"/><circle cx="435" cy="485" r="1" fill="#ccc"/>
<path d="M624.9 472.8 L644.4 495.4 L644.4 508 L625.3 483.5Z" fill="#1e1e20" stroke="#1e1e20" stroke-width="0.5" stroke-linejoin="round"/><path d="M644.4 495.4 L726.3 474 L725.8 486 L644.4 508Z" fill="#19191b" stroke="#19191b" stroke-width="0.5" stroke-linejoin="round"/><path d="M624.9 472.8 L694.6 458.7 L726.3 474 L644.4 495.4Z" fill="#2b2b2e" stroke="#2b2b2e" stroke-width="0.5" stroke-linejoin="round"/><ellipse cx="653" cy="479" rx="7.5" ry="4.8" transform="rotate(-14 653 479)" fill="#27272a" stroke="#353539" stroke-width="0.9"/><ellipse cx="675" cy="473.4" rx="7.5" ry="4.8" transform="rotate(-14 675 473.4)" fill="#27272a" stroke="#353539" stroke-width="0.9"/><circle cx="631.1" cy="474.2" r="1.1" fill="#111"/><circle cx="691.9" cy="460.8" r="1.1" fill="#111"/><circle cx="717.5" cy="473.9" r="1.1" fill="#111"/><circle cx="650.5" cy="491.1" r="1.1" fill="#111"/><path d="M695.8 482.2 L710.5 478.5 L710.5 486 L695.8 489.9Z" fill="#3a3a3d" stroke="#3a3a3d" stroke-width="0.5" stroke-linejoin="round"/><rect x="698" y="481.5" width="3" height="2" fill="#ddd"/><rect x="703" y="481" width="4" height="2" fill="#bbb"/><rect x="698" y="485.5" width="9" height="1.5" fill="#999"/><rect x="673.8" y="489.9" width="4.9" height="4.9" fill="#0a0a0a"/><rect x="682.3" y="491.8" width="4.9" height="3.4" fill="#d8d8d8"/>
<radialGradient id="spkShadow" cx="0.5" cy="0.5" r="0.5"><stop offset="0" stop-color="#9a7a6a" stop-opacity="0.6"/><stop offset="1" stop-color="#fff" stop-opacity="0"/></radialGradient><linearGradient id="spkFront" x1="0" y1="0" x2="0.3" y2="1"><stop offset="0" stop-color="#d27a45"/><stop offset="1" stop-color="#b85e30"/></linearGradient><linearGradient id="spkSide" x1="0" y1="0" x2="1" y2="0"><stop offset="0" stop-color="#9a4424"/><stop offset="1" stop-color="#7a2c18"/></linearGradient><radialGradient id="cone" cx="0.35" cy="0.5" r="0.65"><stop offset="0" stop-color="#e8e8e8"/><stop offset="0.5" stop-color="#d0d0d0"/><stop offset="0.8" stop-color="#9a9a9a"/><stop offset="1" stop-color="#6a6a6a"/></radialGradient><radialGradient id="knob" cx="0.4" cy="0.35" r="0.7"><stop offset="0" stop-color="#ffffff"/><stop offset="0.6" stop-color="#c8c8c8"/><stop offset="1" stop-color="#7a7a7a"/></radialGradient><ellipse cx="833" cy="521.5" rx="42" ry="5" fill="url(#spkShadow)"/><path d="M844.4 418.3 L866.6 433.1 L867.5 515.2 L844.4 520.7Z" fill="url(#spkSide)"/><path d="M804.8 425.7 L844.4 418.3 L844.4 520.7 L798.3 516.1Z" fill="url(#spkFront)"/><path d="M804.8 425.7L844.4 418.3L866.6 433.1" fill="none" stroke="#e0925a" stroke-width="1"/><circle cx="824.7" cy="435.8" r="5.6" fill="#505050"/><circle cx="824.7" cy="435.8" r="4.6" fill="url(#knob)"/><circle cx="825" cy="436.2" r="2.3" fill="#3a3a3a"/><circle cx="821.4" cy="467.2" r="16.6" fill="#1b1b1b"/><circle cx="821.4" cy="467.2" r="13.4" fill="#858585"/><circle cx="821.4" cy="467.2" r="11.5" fill="url(#cone)"/><circle cx="826.5" cy="467.8" r="6" fill="#1e1e1e"/><circle cx="825" cy="466" r="2" fill="#555"/><circle cx="803.3" cy="505" r="5" fill="url(#knob)"/><circle cx="832.1" cy="507.2" r="7" fill="url(#knob)"/><rect x="812" y="503" width="11" height="6.8" rx="1" fill="#3a2010"/><circle cx="815.2" cy="506.4" r="1.8" fill="#c8b040"/><circle cx="819.8" cy="506.4" r="1.8" fill="#40a8c8"/>
<path d="M785.8 90H900V205H830.8Z" fill="#233446"/><g fill="none" stroke="#a8b2be" stroke-width="1" opacity="0.6"><path d="M772.5 145V171"/><path d="M780.8 145V166.7H803.3V171"/><path d="M789.2 145V160H835V173"/><path d="M796.7 145V154.2H865.8V172"/></g><path d="M766 144.7H828Q835 144.7 835 136Q835 127 826.5 125.5Q827 104 809.5 103.7Q795 103.7 791 114.5Q787 113 782 113.6Q770 115.5 769.5 124Q759.2 126 759.2 134.5Q759.2 144.7 766 144.7Z" fill="#233446" stroke="#8ea4b8" stroke-width="1.1"/><path d="M781 125.6H772Q769.6 125.6 769.6 128V132.2Q769.6 134.6 772 134.6H781M786 125.6H793Q795.6 125.6 795.6 128V132.2Q795.6 134.6 793 134.6H786Q783.6 134.6 783.6 132.2V128Q783.6 125.6 786 125.6ZM798.4 134.8V125.6H807.2Q809.4 125.6 809.4 127.8V128.4Q809.4 130.4 807.2 130.4H798.4M804.5 130.4L809.6 134.8M824.2 125.6H812.2V134.6H824.2M812.2 130.1H822.5" fill="none" stroke="#c2cad2" stroke-width="2.3"/><path d="M781 125.6H772Q769.6 125.6 769.6 128V132.2Q769.6 134.6 772 134.6H781M786 125.6H793Q795.6 125.6 795.6 128V132.2Q795.6 134.6 793 134.6H786Q783.6 134.6 783.6 132.2V128Q783.6 125.6 786 125.6ZM798.4 134.8V125.6H807.2Q809.4 125.6 809.4 127.8V128.4Q809.4 130.4 807.2 130.4H798.4M804.5 130.4L809.6 134.8M824.2 125.6H812.2V134.6H824.2M812.2 130.1H822.5" fill="none" stroke="#4a5a6a" stroke-width="0.6"/><text x="834" y="124.2" textLength="60" lengthAdjust="spacingAndGlyphs" style="font-size:10.4px;font-weight:bold;fill:#f4f6f8">LIVE STREAM</text><path d="M765 177.5H778.5V185.5L774.5 189H771L768.5 191.2V189H765Z" fill="#fff" stroke="#6b45a8" stroke-width="1.6" stroke-linejoin="round"/><path d="M770 180.5V184.5M774 180.5V184.5" stroke="#6b45a8" stroke-width="1.5"/><rect x="793" y="177" width="20.7" height="13.8" rx="3.5" fill="#d4262c"/><path d="M800.5 180.6L807 183.9L800.5 187.2Z" fill="#fff"/><path d="M834.6 192.5Q827.5 184 827.5 180.5Q827.5 174 834.6 174Q841.7 174 841.7 180.5Q841.7 184 834.6 192.5Z" fill="#f6f6f6"/><circle cx="834.6" cy="180.8" r="3.6" fill="#d33a3a"/><circle cx="835.6" cy="179.8" r="1.1" fill="#f6f6f6"/><rect x="854" y="178" width="14.7" height="12.8" fill="#3b5a9a"/><path d="M862.8 190.8V184.2H865V182.4H862.8V181.2Q862.8 180.2 864 180.2H865.2V178.4H863.6Q860.6 178.4 860.6 181.2V182.4H858.8V184.2H860.6V190.8Z" fill="#fff"/><rect x="869" y="178" width="24.3" height="13" fill="#d93a3f"/><text x="872" y="188.6" textLength="18.5" lengthAdjust="spacingAndGlyphs" style="font-size:10px;font-weight:bold;fill:#fff">LIVE</text>
<rect x="694.5" y="132" width="7.5" height="3.6" rx="0.6" fill="none" stroke="#7a9a9a" stroke-width="0.9"/><path d="M697.5 133L699.5 133.8L697.5 134.6Z" fill="#7a9a9a"/><text x="686.3" y="141.8" style="font-size:9px;font-weight:bold;fill:#2a6ab0">X</text><text x="692.6" y="141.6" textLength="9.5" lengthAdjust="spacingAndGlyphs" style="font-size:5.5px;fill:#4a6a8a">Split</text><circle cx="712.5" cy="136.6" r="5.3" fill="#141414"/><path d="M710 133.5Q712.5 131.8 715 134M715.3 137Q714.5 140 711.5 140.2M709.5 138.5Q708.8 135.5 710.5 133.8" fill="none" stroke="#d8d8d8" stroke-width="0.8"/><rect x="723" y="132" width="3.1" height="3.0" fill="#2a6ec0"/><rect x="723" y="135.4" width="3.1" height="3.0" fill="#2a6ec0"/><rect x="723" y="138.8" width="3.1" height="3.0" fill="#c08a40"/><rect x="726.5" y="132" width="3.1" height="3.0" fill="#3a86d0"/><rect x="726.5" y="135.4" width="3.1" height="3.0" fill="#4a90d8"/><rect x="726.5" y="138.8" width="3.1" height="3.0" fill="#2a6ec0"/><rect x="730" y="132" width="3.1" height="3.0" fill="#4aa060"/><rect x="730" y="135.4" width="3.1" height="3.0" fill="#2a6ec0"/><rect x="730" y="138.8" width="3.1" height="3.0" fill="#3a86d0"/><path d="M681 147.3H745.2" stroke="#4a4c50" stroke-width="1.4" stroke-dasharray="4.6 3.9"/><circle cx="687.8" cy="157" r="5.6" fill="#8c8e92"/><path d="M685 154.5L687.5 159.5L690.8 154" fill="none" stroke="#f2f2f2" stroke-width="1.4"/><circle cx="704.5" cy="157" r="5.6" fill="#2b6cb6"/><text x="701.6" y="160.5" style="font-size:9.5px;font-weight:bold;fill:#fff">S</text><path d="M721.5 149.5L726.5 160H716.5Z" fill="#f08a20"/><path d="M718.5 155.5H724.5" stroke="#fde2c0" stroke-width="1.3"/><rect x="715.5" y="160" width="12" height="2.2" fill="#f39a38"/><circle cx="737" cy="157" r="5.6" fill="#2f74b8"/><circle cx="737" cy="156.6" r="3.2" fill="none" stroke="#d8e8f6" stroke-width="1.4"/><path d="M739 158.8L741.5 161.5" stroke="#2f74b8" stroke-width="1.5"/>

<use href="#lpc"/>
<use href="#lpc" transform="translate(0,122.6)"/>
<use href="#cam"/>
<use href="#cam" transform="translate(0,100.4)"/>
<use href="#cam" transform="translate(0,193.9)"/>
<use href="#cam" transform="translate(0,293.6)"/>

<!-- ORANGE -->
<g id="orange">
<path d="M102 60.8H150.5V620.5H102" fill="none" stroke="#e49a3e" stroke-width="2.2"/>
<path d="M150.5 315H171" stroke="#e49a3e" stroke-width="2.2"/>
<path d="M169.6 305L186 315L169.6 325Z" fill="#f0961f"/>
<path d="M241.6 196.7V217" stroke="#e8962a" stroke-width="2.2"/>
<path d="M232.9 215.6H251.1L242 232.2Z" fill="#f0961f"/>
<path d="M387.8 196.7V217" stroke="#e8962a" stroke-width="2.2"/>
<path d="M378.4 215.6H397.1L387.8 232.2Z" fill="#f0961f"/>
</g>

<!-- BLUE -->
<g id="blue" fill="#1a64b2">
<path d="M487.5 146.6V406.7" fill="none" stroke="#1b5894" stroke-width="2.8"/><path d="M524 146.6H487.5M524 406.7H487.5M524 262H487.5M450.5 315H487.5" fill="none" stroke="#1b5894" stroke-width="2.3"/>
<path d="M523.3 136.3L541.3 146.6L523.3 156.7Z"/>
<path d="M523.3 252.5L541.3 262L523.3 273Z"/>
<path d="M523.3 397.5L541.3 407L523.3 417.5Z"/>
<path d="M318.3 394V414" stroke="#1b5c9c" stroke-width="2.6"/>
<path d="M309 413.3H327.5L318.3 429.7Z"/>
<path d="M371.7 483.3H412M570 482.8H606M735.8 483.3H772" stroke="#1b5a98" stroke-width="2.4"/>
<path d="M410.8 475L425 483.3L410.8 492Z"/>
<path d="M605 474.7L619.7 483L605 491.3Z"/>
<path d="M770.8 475L785 483.3L770.8 491.7Z"/>
</g>

<!-- LABELS -->
<g class="t" opacity="0.999">
<text x="40.7" y="136.5" textLength="22.23" lengthAdjust="spacingAndGlyphs">PC</text>
<text x="40.3" y="254.2" textLength="22.23" lengthAdjust="spacingAndGlyphs">PC</text>
<text x="34.3" y="341.7" textLength="35.56" lengthAdjust="spacingAndGlyphs">CAM</text>
<text x="34.3" y="441.7" textLength="35.56" lengthAdjust="spacingAndGlyphs">CAM</text>
<text x="34.3" y="535" textLength="35.56" lengthAdjust="spacingAndGlyphs">CAM</text>
<text x="34.2" y="634" textLength="35.8" lengthAdjust="spacingAndGlyphs">CAM</text>
<text x="89" y="232.5" textLength="57.78" lengthAdjust="spacingAndGlyphs">HDMI in</text>
<text x="91.9" y="464.7" textLength="43.58" lengthAdjust="spacingAndGlyphs">SDI in</text>
<text x="286" y="204.4" textLength="76.48" lengthAdjust="spacingAndGlyphs">Mic/Line in</text>
<text x="344.5" y="402.2" textLength="67.61" lengthAdjust="spacingAndGlyphs">Audio out</text>
<text x="272.5" y="541.3" textLength="84.48" lengthAdjust="spacingAndGlyphs">Audio mixer</text>
<text x="440.8" y="515" textLength="114.4" lengthAdjust="spacingAndGlyphs">Auido processor</text>
<text x="625.8" y="526.7" textLength="104.6" lengthAdjust="spacingAndGlyphs">Audio amplifier</text>
<text x="801.3" y="544.4" textLength="59.59" lengthAdjust="spacingAndGlyphs">Speaker</text>
<text x="493" y="121.7" textLength="59.59" lengthAdjust="spacingAndGlyphs">USB out</text>
<text x="489.8" y="289" textLength="63.14" lengthAdjust="spacingAndGlyphs">PGM out</text>
<text x="458" y="429.2" textLength="92.48" lengthAdjust="spacingAndGlyphs">Multiview out</text>
<text x="596.2" y="197.5" textLength="22.23" lengthAdjust="spacingAndGlyphs">PC</text>
<text x="594.2" y="318.1" textLength="53.36" lengthAdjust="spacingAndGlyphs">Monitor</text>
<text x="594.2" y="448.1" textLength="53.36" lengthAdjust="spacingAndGlyphs">Monitor</text>
<text x="785.6" y="228.3" textLength="104.05" lengthAdjust="spacingAndGlyphs">Live streaming</text>
</g>

</svg>
</body></html>
